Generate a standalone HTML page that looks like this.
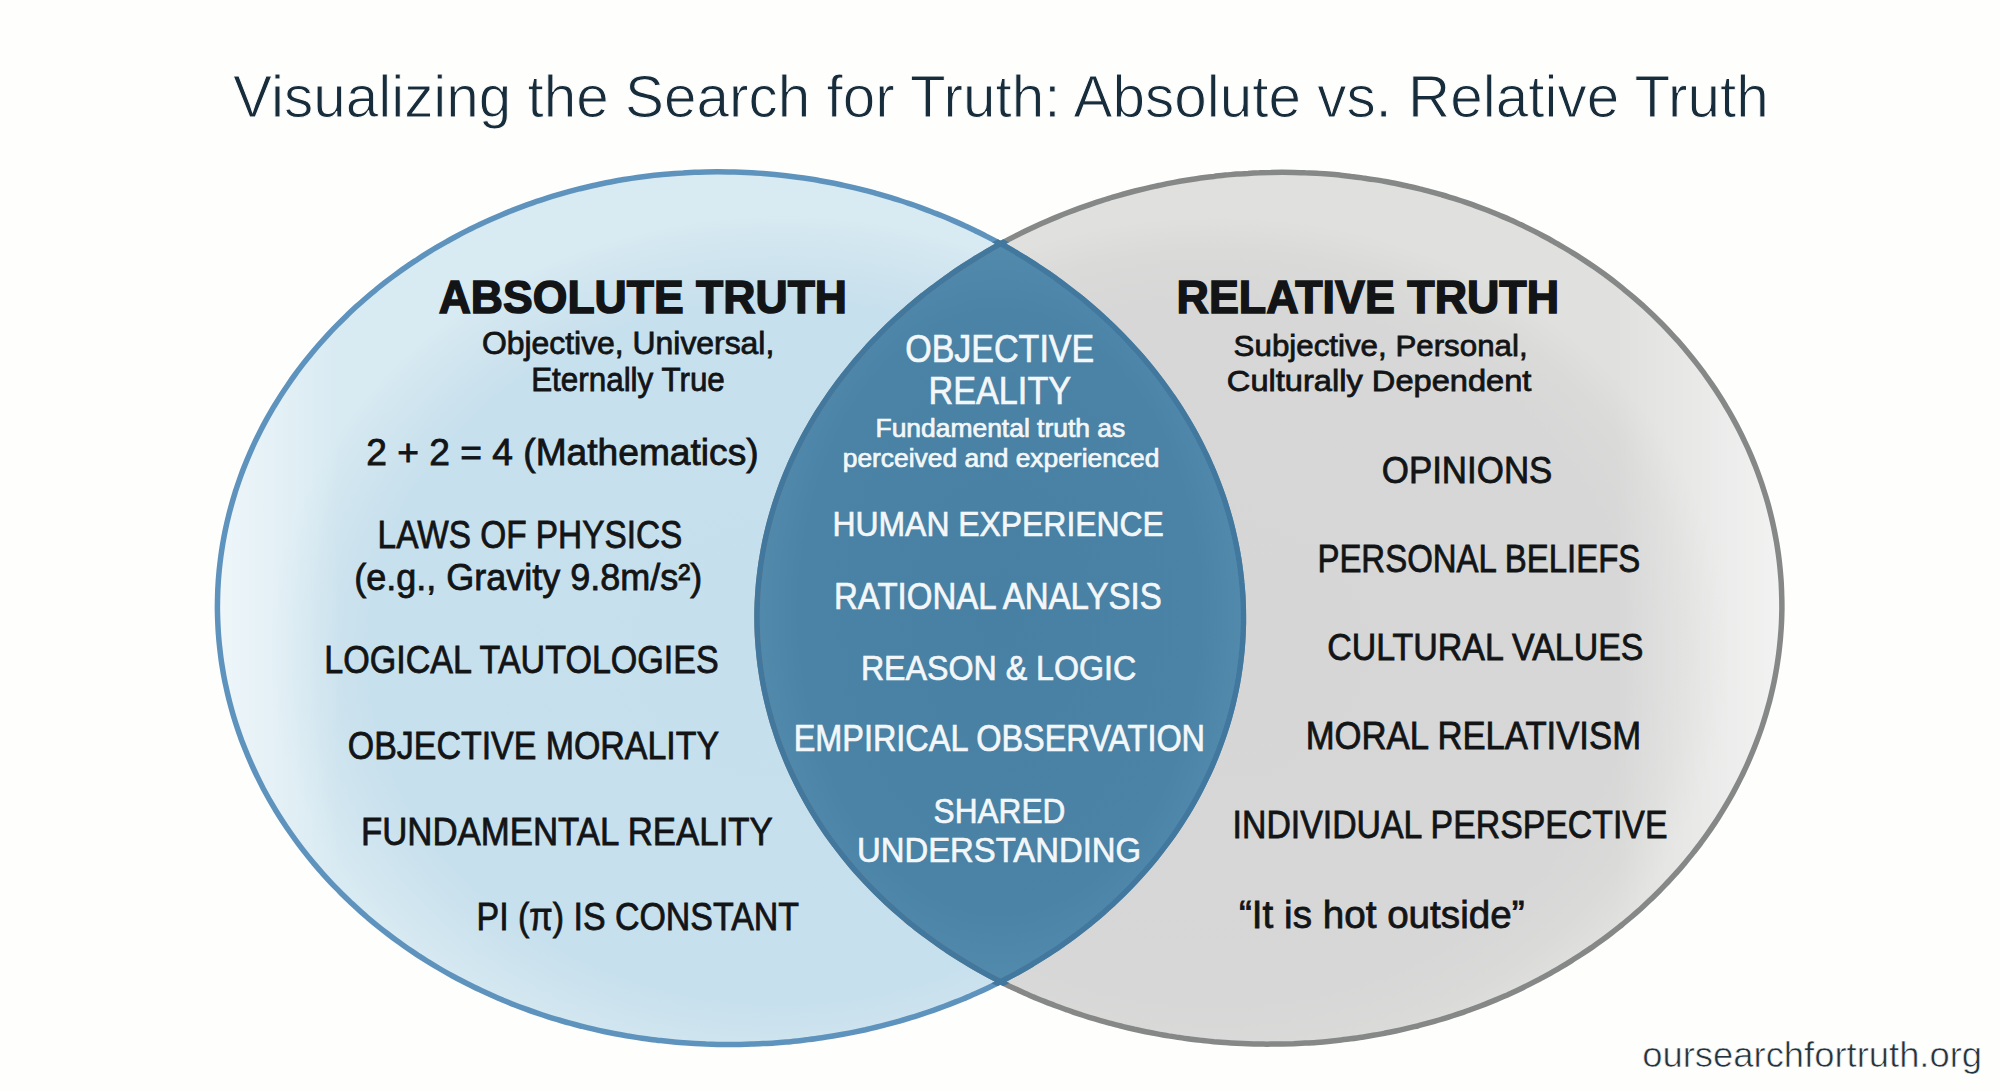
<!DOCTYPE html>
<html><head><meta charset="utf-8">
<style>
html,body{margin:0;padding:0;background:#fefefd;}
body{width:2000px;height:1091px;overflow:hidden;position:relative;}
svg{position:absolute;left:0;top:0;display:block;}
text{font-family:"Liberation Sans",sans-serif;}
</style></head>
<body>
<svg width="2000" height="1091" viewBox="0 0 2000 1091">
<defs>
<clipPath id="cl"><path d="M217.4 609.4C217.4 604.9 217.5 600.4 217.6 596.0C217.7 591.5 217.9 587.0 218.2 582.6C218.5 578.1 218.9 573.7 219.3 569.3C219.8 564.8 220.3 560.4 220.9 556.0C221.5 551.5 222.2 547.1 222.9 542.7C223.7 538.4 224.5 534.0 225.4 529.6C226.3 525.3 227.3 520.9 228.4 516.6C229.4 512.3 230.6 508.0 231.8 503.7C233.0 499.4 234.3 495.2 235.6 490.9C237.0 486.7 238.4 482.5 239.9 478.3C241.4 474.2 242.9 470.0 244.6 465.9C246.2 461.8 247.9 457.7 249.7 453.6C251.4 449.6 253.2 445.6 255.1 441.6C257.0 437.6 259.0 433.7 261.0 429.7C263.0 425.8 265.1 422.0 267.2 418.1C269.4 414.3 271.6 410.5 273.8 406.7C276.1 403.0 278.4 399.3 280.7 395.6C283.1 391.9 285.5 388.3 288.0 384.7C290.4 381.1 292.9 377.5 295.5 374.0C298.1 370.5 300.7 367.1 303.3 363.7C306.0 360.2 308.7 356.9 311.5 353.5C314.2 350.2 317.0 346.9 319.8 343.7C322.7 340.5 325.6 337.3 328.5 334.1C331.4 331.0 334.3 327.9 337.3 324.9C340.3 321.8 343.4 318.8 346.4 315.9C349.5 312.9 352.6 310.0 355.7 307.1C358.8 304.3 362.0 301.5 365.2 298.7C368.4 295.9 371.6 293.2 374.9 290.6C378.1 287.9 381.4 285.3 384.7 282.7C388.0 280.1 391.3 277.6 394.7 275.1C398.1 272.7 401.4 270.2 404.8 267.9C408.2 265.5 411.7 263.1 415.1 260.9C418.6 258.6 422.0 256.3 425.5 254.1C429.0 252.0 432.5 249.8 436.1 247.7C439.6 245.6 443.1 243.6 446.7 241.6C450.3 239.6 453.8 237.6 457.4 235.7C461.0 233.8 464.6 231.9 468.2 230.1C471.9 228.3 475.5 226.5 479.2 224.8C482.8 223.0 486.5 221.3 490.1 219.7C493.8 218.1 497.5 216.5 501.2 214.9C504.9 213.4 508.6 211.9 512.3 210.4C516.0 208.9 519.7 207.5 523.5 206.1C527.2 204.8 530.9 203.4 534.7 202.1C538.4 200.9 542.2 199.6 546.0 198.4C549.7 197.2 553.5 196.0 557.3 194.9C561.0 193.8 564.8 192.7 568.6 191.7C572.4 190.7 576.2 189.7 580.0 188.7C583.8 187.8 587.6 186.9 591.4 186.0C595.2 185.1 599.0 184.3 602.8 183.5C606.6 182.7 610.4 182.0 614.2 181.3C618.0 180.6 621.8 179.9 625.7 179.3C629.5 178.7 633.3 178.1 637.1 177.5C641.0 177.0 644.8 176.5 648.6 176.0C652.4 175.6 656.3 175.1 660.1 174.7C663.9 174.4 667.7 174.0 671.6 173.7C675.4 173.4 679.2 173.1 683.0 172.9C686.9 172.6 690.7 172.5 694.5 172.3C698.3 172.1 702.2 172.0 706.0 171.9C709.8 171.9 713.6 171.8 717.5 171.8C721.3 171.8 725.1 171.8 728.9 171.9C732.7 172.0 736.6 172.1 740.4 172.2C744.2 172.4 748.0 172.6 751.8 172.8C755.6 173.0 759.4 173.2 763.2 173.5C767.0 173.8 770.8 174.2 774.6 174.5C778.4 174.9 782.2 175.3 786.0 175.7C789.8 176.2 793.6 176.7 797.4 177.2C801.2 177.7 804.9 178.2 808.7 178.8C812.5 179.4 816.3 180.0 820.0 180.7C823.8 181.4 827.6 182.1 831.3 182.8C835.1 183.5 838.8 184.3 842.6 185.1C846.3 185.9 850.1 186.8 853.8 187.6C857.6 188.5 861.3 189.4 865.0 190.4C868.8 191.4 872.5 192.3 876.2 193.4C879.9 194.4 883.7 195.5 887.4 196.6C891.1 197.7 894.8 198.8 898.5 200.0C902.2 201.2 905.9 202.4 909.5 203.7C913.2 204.9 916.9 206.2 920.6 207.6C924.2 208.9 927.9 210.3 931.5 211.7C935.2 213.1 938.8 214.6 942.5 216.0C946.1 217.5 949.7 219.1 953.3 220.6C957.0 222.2 960.6 223.8 964.2 225.5C967.8 227.1 971.3 228.8 974.9 230.5C978.5 232.3 982.1 234.0 985.6 235.9C989.2 237.7 992.7 239.5 996.2 241.4C999.8 243.3 1003.3 245.3 1006.8 247.2C1010.3 249.2 1013.8 251.2 1017.2 253.3C1020.7 255.4 1024.2 257.5 1027.6 259.6C1031.1 261.8 1034.5 264.0 1037.9 266.2C1041.3 268.5 1044.7 270.7 1048.1 273.1C1051.4 275.4 1054.8 277.8 1058.1 280.2C1061.4 282.6 1064.7 285.1 1068.0 287.6C1071.3 290.1 1074.6 292.6 1077.8 295.2C1081.1 297.8 1084.3 300.4 1087.5 303.1C1090.7 305.8 1093.8 308.5 1097.0 311.3C1100.1 314.1 1103.2 316.9 1106.3 319.8C1109.4 322.7 1112.4 325.6 1115.4 328.5C1118.5 331.5 1121.4 334.5 1124.4 337.6C1127.4 340.6 1130.3 343.7 1133.1 346.9C1136.0 350.0 1138.9 353.2 1141.7 356.4C1144.5 359.7 1147.2 362.9 1150.0 366.3C1152.7 369.6 1155.4 373.0 1158.0 376.4C1160.7 379.8 1163.3 383.3 1165.8 386.8C1168.3 390.3 1170.8 393.8 1173.3 397.4C1175.7 401.0 1178.2 404.6 1180.5 408.3C1182.8 412.0 1185.1 415.7 1187.4 419.5C1189.6 423.2 1191.8 427.0 1194.0 430.9C1196.1 434.7 1198.2 438.6 1200.2 442.5C1202.2 446.4 1204.1 450.4 1206.0 454.3C1207.9 458.3 1209.7 462.4 1211.5 466.4C1213.3 470.5 1215.0 474.6 1216.6 478.7C1218.2 482.8 1219.8 487.0 1221.3 491.2C1222.8 495.3 1224.2 499.6 1225.6 503.8C1226.9 508.0 1228.2 512.3 1229.4 516.6C1230.6 520.9 1231.7 525.2 1232.8 529.6C1233.8 533.9 1234.8 538.3 1235.7 542.6C1236.6 547.0 1237.5 551.4 1238.2 555.8C1239.0 560.2 1239.6 564.7 1240.2 569.1C1240.8 573.6 1241.3 578.0 1241.7 582.5C1242.2 586.9 1242.5 591.4 1242.8 595.9C1243.0 600.4 1243.2 604.9 1243.3 609.4C1243.4 613.8 1243.4 618.3 1243.4 622.8C1243.3 627.3 1243.1 631.8 1242.9 636.3C1242.7 640.8 1242.4 645.3 1242.0 649.7C1241.6 654.2 1241.1 658.7 1240.5 663.1C1240.0 667.6 1239.3 672.0 1238.6 676.5C1237.9 680.9 1237.1 685.3 1236.2 689.7C1235.3 694.1 1234.3 698.5 1233.3 702.8C1232.3 707.2 1231.1 711.5 1229.9 715.9C1228.7 720.2 1227.5 724.5 1226.1 728.7C1224.8 733.0 1223.3 737.2 1221.8 741.4C1220.3 745.6 1218.8 749.8 1217.1 754.0C1215.5 758.1 1213.8 762.2 1212.0 766.3C1210.2 770.4 1208.3 774.4 1206.4 778.4C1204.5 782.5 1202.5 786.4 1200.4 790.4C1198.4 794.3 1196.3 798.2 1194.1 802.0C1191.9 805.9 1189.7 809.7 1187.4 813.5C1185.1 817.2 1182.7 821.0 1180.3 824.6C1177.9 828.3 1175.4 832.0 1172.9 835.6C1170.3 839.2 1167.7 842.7 1165.1 846.2C1162.5 849.7 1159.8 853.2 1157.1 856.6C1154.3 860.0 1151.6 863.3 1148.7 866.6C1145.9 869.9 1143.0 873.2 1140.1 876.4C1137.2 879.6 1134.3 882.8 1131.3 885.9C1128.3 889.0 1125.3 892.1 1122.2 895.1C1119.1 898.1 1116.0 901.1 1112.9 904.0C1109.7 906.9 1106.5 909.7 1103.3 912.6C1100.1 915.4 1096.9 918.1 1093.6 920.8C1090.3 923.6 1087.0 926.2 1083.7 928.8C1080.4 931.4 1077.0 934.0 1073.7 936.5C1070.3 939.0 1066.9 941.5 1063.4 943.9C1060.0 946.3 1056.6 948.7 1053.1 951.0C1049.6 953.3 1046.1 955.5 1042.6 957.8C1039.1 960.0 1035.6 962.1 1032.0 964.3C1028.5 966.4 1024.9 968.5 1021.3 970.5C1017.8 972.5 1014.2 974.5 1010.6 976.4C1007.0 978.3 1003.3 980.2 999.7 982.1C996.1 983.9 992.4 985.7 988.8 987.4C985.1 989.2 981.4 990.9 977.8 992.5C974.1 994.2 970.4 995.8 966.7 997.4C963.0 998.9 959.3 1000.5 955.6 1001.9C951.9 1003.4 948.1 1004.9 944.4 1006.3C940.7 1007.7 937.0 1009.0 933.2 1010.3C929.5 1011.6 925.7 1012.9 922.0 1014.2C918.2 1015.4 914.5 1016.6 910.7 1017.7C907.0 1018.9 903.2 1020.0 899.4 1021.1C895.7 1022.1 891.9 1023.2 888.1 1024.2C884.4 1025.2 880.6 1026.1 876.8 1027.0C873.0 1027.9 869.3 1028.8 865.5 1029.7C861.7 1030.5 857.9 1031.3 854.1 1032.1C850.3 1032.9 846.6 1033.6 842.8 1034.3C839.0 1035.0 835.2 1035.6 831.4 1036.3C827.6 1036.9 823.8 1037.5 820.0 1038.0C816.2 1038.6 812.4 1039.1 808.6 1039.6C804.9 1040.0 801.1 1040.5 797.3 1040.9C793.5 1041.3 789.7 1041.7 785.9 1042.0C782.1 1042.4 778.3 1042.7 774.5 1042.9C770.7 1043.2 766.9 1043.4 763.1 1043.6C759.3 1043.8 755.5 1044.0 751.7 1044.1C747.9 1044.3 744.1 1044.4 740.3 1044.4C736.5 1044.5 732.7 1044.5 728.9 1044.5C725.1 1044.5 721.3 1044.5 717.5 1044.4C713.7 1044.3 709.9 1044.2 706.1 1044.1C702.3 1043.9 698.5 1043.7 694.7 1043.5C691.0 1043.3 687.2 1043.0 683.4 1042.8C679.6 1042.5 675.8 1042.2 672.0 1041.8C668.2 1041.4 664.4 1041.0 660.6 1040.6C656.8 1040.2 653.0 1039.7 649.2 1039.2C645.5 1038.7 641.7 1038.2 637.9 1037.6C634.1 1037.0 630.3 1036.4 626.5 1035.8C622.8 1035.1 619.0 1034.5 615.2 1033.7C611.4 1033.0 607.7 1032.3 603.9 1031.5C600.1 1030.7 596.3 1029.8 592.6 1028.9C588.8 1028.1 585.1 1027.2 581.3 1026.2C577.5 1025.3 573.8 1024.3 570.0 1023.2C566.3 1022.2 562.6 1021.1 558.8 1020.0C555.1 1018.9 551.3 1017.8 547.6 1016.6C543.9 1015.4 540.2 1014.1 536.5 1012.9C532.7 1011.6 529.0 1010.3 525.3 1008.9C521.6 1007.6 517.9 1006.2 514.2 1004.7C510.6 1003.3 506.9 1001.8 503.2 1000.3C499.6 998.7 495.9 997.2 492.3 995.6C488.6 993.9 485.0 992.3 481.3 990.6C477.7 988.9 474.1 987.1 470.5 985.3C466.9 983.6 463.3 981.7 459.7 979.8C456.2 978.0 452.6 976.0 449.1 974.1C445.5 972.1 442.0 970.1 438.5 968.0C435.0 965.9 431.5 963.8 428.0 961.7C424.5 959.5 421.1 957.3 417.6 955.1C414.2 952.8 410.8 950.5 407.4 948.2C404.0 945.8 400.6 943.4 397.3 941.0C393.9 938.6 390.6 936.1 387.3 933.5C384.0 931.0 380.7 928.4 377.5 925.8C374.2 923.2 371.0 920.5 367.8 917.8C364.6 915.0 361.5 912.3 358.3 909.4C355.2 906.6 352.1 903.8 349.0 900.8C346.0 897.9 343.0 895.0 340.0 892.0C337.0 888.9 334.0 885.9 331.1 882.8C328.2 879.7 325.3 876.5 322.4 873.3C319.6 870.1 316.8 866.9 314.0 863.6C311.3 860.3 308.5 857.0 305.9 853.6C303.2 850.2 300.6 846.8 298.0 843.3C295.4 839.9 292.9 836.4 290.4 832.8C287.9 829.3 285.5 825.7 283.1 822.0C280.7 818.4 278.4 814.7 276.1 811.0C273.8 807.3 271.6 803.5 269.4 799.7C267.3 795.9 265.2 792.0 263.1 788.2C261.1 784.3 259.1 780.4 257.2 776.4C255.2 772.5 253.4 768.5 251.6 764.5C249.8 760.4 248.0 756.4 246.4 752.3C244.7 748.2 243.1 744.1 241.5 740.0C240.0 735.8 238.5 731.6 237.1 727.4C235.7 723.2 234.4 719.0 233.1 714.7C231.9 710.5 230.7 706.2 229.6 701.9C228.5 697.6 227.4 693.3 226.5 688.9C225.5 684.6 224.6 680.2 223.8 675.9C223.0 671.5 222.3 667.1 221.6 662.7C220.9 658.3 220.4 653.9 219.9 649.4C219.4 645.0 218.9 640.6 218.6 636.1C218.2 631.7 218.0 627.2 217.8 622.7C217.6 618.3 217.5 613.8 217.4 609.4Z" /></clipPath>
<clipPath id="clx"><path d="M211.9 609.4C211.9 604.9 212.0 600.3 212.1 595.8C212.2 591.3 212.4 586.8 212.7 582.3C213.0 577.8 213.4 573.3 213.8 568.8C214.3 564.3 214.8 559.9 215.4 555.4C216.0 550.9 216.7 546.5 217.5 542.0C218.2 537.6 219.1 533.2 220.0 528.8C220.9 524.3 221.9 520.0 223.0 515.6C224.0 511.2 225.2 506.9 226.4 502.5C227.6 498.2 228.9 493.9 230.3 489.6C231.6 485.4 233.1 481.1 234.6 476.9C236.1 472.7 237.6 468.5 239.3 464.3C240.9 460.2 242.6 456.0 244.4 451.9C246.2 447.8 248.0 443.8 250.0 439.8C251.9 435.7 253.8 431.7 255.9 427.8C257.9 423.8 260.0 419.9 262.1 416.0C264.3 412.1 266.5 408.3 268.8 404.5C271.0 400.7 273.4 396.9 275.8 393.2C278.1 389.5 280.6 385.8 283.1 382.2C285.5 378.6 288.1 375.0 290.7 371.4C293.3 367.9 295.9 364.4 298.6 360.9C301.3 357.4 304.0 354.0 306.8 350.7C309.5 347.3 312.4 344.0 315.2 340.7C318.1 337.4 321.0 334.2 323.9 331.0C326.9 327.8 329.9 324.7 332.9 321.6C335.9 318.5 339.0 315.5 342.1 312.5C345.1 309.5 348.3 306.6 351.4 303.7C354.6 300.8 357.8 297.9 361.0 295.1C364.2 292.3 367.5 289.6 370.8 286.9C374.1 284.2 377.4 281.5 380.7 278.9C384.1 276.3 387.4 273.8 390.8 271.3C394.2 268.7 397.6 266.3 401.1 263.9C404.5 261.5 408.0 259.1 411.4 256.8C414.9 254.5 418.4 252.2 422.0 250.0C425.5 247.7 429.0 245.6 432.6 243.4C436.2 241.3 439.7 239.2 443.3 237.2C446.9 235.2 450.6 233.2 454.2 231.2C457.8 229.3 461.5 227.4 465.1 225.5C468.8 223.7 472.5 221.9 476.2 220.1C479.8 218.4 483.5 216.7 487.3 215.0C491.0 213.3 494.7 211.7 498.4 210.2C502.2 208.6 505.9 207.0 509.7 205.6C513.4 204.1 517.2 202.6 521.0 201.2C524.7 199.8 528.5 198.5 532.3 197.2C536.1 195.9 539.9 194.6 543.7 193.4C547.5 192.2 551.3 191.0 555.1 189.8C559.0 188.7 562.8 187.6 566.6 186.6C570.5 185.5 574.3 184.5 578.1 183.5C582.0 182.6 585.8 181.7 589.7 180.8C593.5 179.9 597.4 179.0 601.2 178.3C605.1 177.5 608.9 176.7 612.8 176.0C616.7 175.3 620.5 174.6 624.4 173.9C628.2 173.3 632.1 172.7 636.0 172.2C639.9 171.6 643.7 171.1 647.6 170.6C651.5 170.1 655.3 169.7 659.2 169.3C663.1 168.9 667.0 168.6 670.8 168.2C674.7 167.9 678.6 167.7 682.5 167.4C686.3 167.2 690.2 167.0 694.1 166.8C698.0 166.7 701.8 166.5 705.7 166.4C709.6 166.4 713.4 166.3 717.3 166.3C721.2 166.3 725.1 166.3 728.9 166.4C732.8 166.5 736.6 166.6 740.5 166.7C744.4 166.9 748.2 167.1 752.1 167.3C755.9 167.5 759.8 167.8 763.6 168.1C767.5 168.4 771.3 168.7 775.2 169.1C779.0 169.4 782.9 169.8 786.7 170.3C790.6 170.7 794.4 171.2 798.2 171.7C802.1 172.3 805.9 172.8 809.7 173.4C813.5 174.0 817.4 174.6 821.2 175.3C825.0 176.0 828.8 176.7 832.6 177.4C836.4 178.2 840.2 179.0 844.0 179.8C847.8 180.6 851.6 181.5 855.4 182.4C859.2 183.3 863.0 184.2 866.7 185.2C870.5 186.1 874.3 187.1 878.1 188.2C881.8 189.2 885.6 190.3 889.3 191.5C893.1 192.6 896.8 193.7 900.6 194.9C904.3 196.1 908.0 197.4 911.8 198.7C915.5 199.9 919.2 201.3 922.9 202.6C926.6 204.0 930.3 205.4 934.0 206.8C937.7 208.2 941.4 209.7 945.1 211.2C948.8 212.7 952.4 214.3 956.1 215.9C959.8 217.5 963.4 219.1 967.0 220.8C970.7 222.5 974.3 224.2 977.9 225.9C981.5 227.7 985.1 229.5 988.7 231.3C992.3 233.2 995.9 235.1 999.5 237.0C1003.0 238.9 1006.6 240.9 1010.1 242.9C1013.7 244.9 1017.2 246.9 1020.7 249.0C1024.2 251.1 1027.7 253.3 1031.2 255.5C1034.7 257.6 1038.1 259.9 1041.6 262.1C1045.0 264.4 1048.4 266.7 1051.8 269.1C1055.2 271.4 1058.6 273.8 1062.0 276.3C1065.4 278.7 1068.7 281.2 1072.0 283.8C1075.3 286.3 1078.6 288.9 1081.9 291.5C1085.2 294.2 1088.4 296.8 1091.7 299.6C1094.9 302.3 1098.1 305.0 1101.2 307.9C1104.4 310.7 1107.6 313.5 1110.7 316.4C1113.8 319.3 1116.8 322.3 1119.9 325.3C1122.9 328.3 1126.0 331.3 1128.9 334.4C1131.9 337.5 1134.9 340.7 1137.8 343.9C1140.7 347.0 1143.5 350.3 1146.4 353.5C1149.2 356.8 1152.0 360.1 1154.7 363.5C1157.5 366.9 1160.2 370.3 1162.9 373.8C1165.5 377.2 1168.1 380.7 1170.7 384.3C1173.3 387.8 1175.8 391.4 1178.3 395.0C1180.7 398.7 1183.2 402.3 1185.5 406.1C1187.9 409.8 1190.2 413.5 1192.5 417.4C1194.7 421.2 1196.9 425.0 1199.1 428.9C1201.2 432.8 1203.3 436.7 1205.4 440.6C1207.4 444.6 1209.4 448.6 1211.3 452.6C1213.2 456.7 1215.0 460.7 1216.8 464.8C1218.6 469.0 1220.3 473.1 1221.9 477.3C1223.6 481.4 1225.1 485.6 1226.6 489.9C1228.1 494.1 1229.6 498.4 1230.9 502.7C1232.3 506.9 1233.6 511.3 1234.8 515.6C1236.0 519.9 1237.2 524.3 1238.2 528.7C1239.3 533.1 1240.3 537.5 1241.2 541.9C1242.1 546.3 1242.9 550.8 1243.7 555.3C1244.4 559.7 1245.1 564.2 1245.7 568.7C1246.3 573.2 1246.8 577.7 1247.2 582.2C1247.7 586.7 1248.0 591.2 1248.3 595.8C1248.5 600.3 1248.7 604.8 1248.8 609.4C1248.9 613.9 1248.9 618.4 1248.9 623.0C1248.8 627.5 1248.6 632.1 1248.4 636.6C1248.2 641.1 1247.9 645.7 1247.5 650.2C1247.1 654.7 1246.6 659.2 1246.0 663.7C1245.4 668.2 1244.8 672.7 1244.1 677.2C1243.3 681.7 1242.5 686.1 1241.6 690.6C1240.7 695.0 1239.8 699.4 1238.7 703.8C1237.7 708.3 1236.5 712.6 1235.3 717.0C1234.1 721.4 1232.8 725.7 1231.5 730.0C1230.1 734.3 1228.7 738.6 1227.1 742.9C1225.6 747.1 1224.0 751.3 1222.4 755.5C1220.7 759.7 1219.0 763.9 1217.2 768.0C1215.4 772.1 1213.5 776.2 1211.6 780.3C1209.6 784.3 1207.6 788.4 1205.6 792.3C1203.5 796.3 1201.4 800.2 1199.2 804.1C1197.0 808.0 1194.7 811.9 1192.4 815.7C1190.1 819.5 1187.7 823.3 1185.2 827.0C1182.8 830.7 1180.3 834.4 1177.8 838.1C1175.2 841.7 1172.6 845.3 1170.0 848.8C1167.3 852.4 1164.6 855.9 1161.8 859.3C1159.1 862.8 1156.3 866.2 1153.4 869.5C1150.6 872.9 1147.7 876.2 1144.8 879.4C1141.8 882.7 1138.8 885.9 1135.8 889.0C1132.8 892.2 1129.7 895.3 1126.6 898.3C1123.5 901.4 1120.4 904.4 1117.2 907.3C1114.1 910.3 1110.8 913.2 1107.6 916.0C1104.4 918.9 1101.1 921.7 1097.8 924.4C1094.5 927.2 1091.2 929.9 1087.8 932.5C1084.4 935.1 1081.1 937.7 1077.6 940.3C1074.2 942.8 1070.8 945.3 1067.3 947.8C1063.9 950.2 1060.4 952.6 1056.9 955.0C1053.4 957.3 1049.8 959.6 1046.3 961.8C1042.8 964.1 1039.2 966.3 1035.6 968.4C1032.0 970.6 1028.4 972.7 1024.8 974.7C1021.2 976.8 1017.6 978.8 1013.9 980.8C1010.3 982.7 1006.6 984.6 1002.9 986.5C999.3 988.4 995.6 990.2 991.9 992.0C988.2 993.7 984.5 995.5 980.7 997.1C977.0 998.8 973.3 1000.5 969.6 1002.1C965.8 1003.7 962.1 1005.2 958.3 1006.7C954.6 1008.2 950.8 1009.7 947.0 1011.1C943.3 1012.5 939.5 1013.9 935.7 1015.2C931.9 1016.6 928.2 1017.9 924.4 1019.1C920.6 1020.4 916.8 1021.6 913.0 1022.8C909.2 1023.9 905.4 1025.1 901.6 1026.1C897.7 1027.2 893.9 1028.3 890.1 1029.3C886.3 1030.3 882.5 1031.3 878.7 1032.2C874.8 1033.1 871.0 1034.0 867.2 1034.9C863.4 1035.8 859.5 1036.6 855.7 1037.4C851.9 1038.1 848.0 1038.9 844.2 1039.6C840.4 1040.3 836.5 1041.0 832.7 1041.6C828.9 1042.2 825.0 1042.8 821.2 1043.4C817.3 1044.0 813.5 1044.5 809.7 1045.0C805.8 1045.5 802.0 1045.9 798.1 1046.3C794.3 1046.7 790.4 1047.1 786.6 1047.5C782.8 1047.8 778.9 1048.1 775.1 1048.4C771.2 1048.7 767.4 1048.9 763.5 1049.1C759.7 1049.3 755.8 1049.5 752.0 1049.6C748.1 1049.8 744.3 1049.9 740.5 1049.9C736.6 1050.0 732.8 1050.0 728.9 1050.0C725.1 1050.0 721.2 1050.0 717.4 1049.9C713.5 1049.8 709.7 1049.7 705.8 1049.5C702.0 1049.4 698.2 1049.2 694.3 1049.0C690.5 1048.8 686.6 1048.5 682.8 1048.2C678.9 1047.9 675.1 1047.6 671.3 1047.2C667.4 1046.9 663.6 1046.5 659.8 1046.0C655.9 1045.6 652.1 1045.1 648.2 1044.6C644.4 1044.1 640.6 1043.6 636.7 1043.0C632.9 1042.4 629.1 1041.8 625.3 1041.1C621.4 1040.5 617.6 1039.8 613.8 1039.0C610.0 1038.3 606.1 1037.5 602.3 1036.7C598.5 1035.9 594.7 1035.1 590.9 1034.2C587.1 1033.3 583.3 1032.4 579.5 1031.4C575.7 1030.4 571.9 1029.4 568.1 1028.4C564.3 1027.3 560.5 1026.2 556.7 1025.1C552.9 1024.0 549.1 1022.8 545.4 1021.6C541.6 1020.4 537.8 1019.1 534.1 1017.8C530.3 1016.5 526.6 1015.2 522.8 1013.8C519.1 1012.4 515.4 1011.0 511.6 1009.6C507.9 1008.1 504.2 1006.6 500.5 1005.0C496.8 1003.5 493.1 1001.9 489.4 1000.3C485.7 998.6 482.0 996.9 478.3 995.2C474.7 993.5 471.0 991.7 467.4 989.9C463.8 988.1 460.1 986.2 456.5 984.3C452.9 982.4 449.3 980.4 445.7 978.4C442.1 976.4 438.6 974.4 435.0 972.3C431.5 970.2 428.0 968.0 424.4 965.9C420.9 963.7 417.4 961.4 414.0 959.2C410.5 956.9 407.0 954.5 403.6 952.2C400.2 949.8 396.8 947.4 393.4 944.9C390.0 942.4 386.6 939.9 383.3 937.3C380.0 934.8 376.7 932.1 373.4 929.5C370.1 926.8 366.9 924.1 363.6 921.3C360.4 918.6 357.2 915.8 354.1 912.9C350.9 910.1 347.8 907.1 344.7 904.2C341.6 901.2 338.5 898.2 335.5 895.2C332.5 892.1 329.5 889.0 326.5 885.9C323.6 882.8 320.7 879.6 317.8 876.3C314.9 873.1 312.1 869.8 309.3 866.5C306.5 863.2 303.8 859.8 301.1 856.4C298.4 852.9 295.7 849.5 293.1 846.0C290.5 842.5 288.0 838.9 285.5 835.3C283.0 831.7 280.5 828.1 278.1 824.4C275.7 820.7 273.4 817.0 271.1 813.2C268.8 809.4 266.5 805.6 264.4 801.8C262.2 797.9 260.0 794.1 258.0 790.1C255.9 786.2 253.9 782.3 252.0 778.3C250.0 774.3 248.1 770.2 246.3 766.2C244.5 762.1 242.8 758.0 241.1 753.9C239.4 749.7 237.8 745.6 236.2 741.4C234.7 737.2 233.2 733.0 231.8 728.7C230.4 724.5 229.0 720.2 227.8 715.9C226.5 711.6 225.3 707.3 224.2 702.9C223.1 698.6 222.0 694.2 221.0 689.8C220.1 685.4 219.2 681.0 218.4 676.6C217.5 672.2 216.8 667.7 216.1 663.3C215.5 658.8 214.9 654.3 214.4 649.9C213.9 645.4 213.4 640.9 213.1 636.4C212.7 631.9 212.5 627.4 212.3 622.9C212.1 618.4 212.0 613.9 211.9 609.4Z" /></clipPath>
<clipPath id="crx"><path d="M751.6 609.1C751.7 604.6 751.9 600.1 752.2 595.5C752.5 591.0 752.8 586.5 753.2 582.0C753.7 577.5 754.2 573.0 754.8 568.5C755.4 564.0 756.0 559.5 756.8 555.1C757.5 550.6 758.4 546.2 759.3 541.8C760.2 537.4 761.2 532.9 762.2 528.6C763.3 524.2 764.5 519.8 765.7 515.5C766.9 511.2 768.2 506.8 769.5 502.6C770.9 498.3 772.3 494.0 773.8 489.8C775.3 485.6 776.9 481.4 778.6 477.2C780.2 473.0 781.9 468.9 783.7 464.8C785.5 460.7 787.3 456.7 789.2 452.6C791.1 448.6 793.1 444.6 795.1 440.7C797.2 436.7 799.2 432.8 801.4 428.9C803.5 425.0 805.7 421.2 808.0 417.4C810.3 413.6 812.6 409.9 815.0 406.1C817.3 402.4 819.7 398.8 822.2 395.1C824.7 391.5 827.2 387.9 829.8 384.4C832.3 380.8 835.0 377.3 837.6 373.9C840.3 370.4 843.0 367.0 845.7 363.7C848.5 360.3 851.3 357.0 854.1 353.7C856.9 350.5 859.8 347.2 862.7 344.1C865.6 340.9 868.5 337.7 871.5 334.7C874.5 331.6 877.5 328.5 880.6 325.5C883.6 322.6 886.7 319.6 889.8 316.7C892.9 313.8 896.0 311.0 899.2 308.1C902.4 305.3 905.6 302.6 908.8 299.9C912.0 297.1 915.2 294.5 918.5 291.9C921.8 289.2 925.1 286.7 928.4 284.1C931.7 281.6 935.0 279.1 938.4 276.7C941.8 274.2 945.2 271.8 948.6 269.5C952.0 267.1 955.4 264.8 958.8 262.5C962.3 260.3 965.7 258.1 969.2 255.9C972.7 253.7 976.1 251.6 979.6 249.5C983.2 247.4 986.7 245.4 990.2 243.4C993.7 241.4 997.3 239.4 1000.9 237.5C1004.4 235.6 1008.0 233.7 1011.6 231.8C1015.2 230.0 1018.8 228.2 1022.4 226.5C1026.0 224.7 1029.6 223.0 1033.2 221.3C1036.9 219.7 1040.5 218.0 1044.2 216.4C1047.8 214.9 1051.5 213.3 1055.1 211.8C1058.8 210.3 1062.5 208.8 1066.2 207.4C1069.9 206.0 1073.6 204.6 1077.3 203.2C1081.0 201.9 1084.7 200.6 1088.4 199.3C1092.1 198.0 1095.8 196.8 1099.6 195.6C1103.3 194.4 1107.0 193.2 1110.8 192.1C1114.5 191.0 1118.3 189.9 1122.0 188.8C1125.8 187.8 1129.6 186.8 1133.3 185.8C1137.1 184.8 1140.9 183.9 1144.7 183.0C1148.4 182.1 1152.2 181.3 1156.0 180.4C1159.8 179.6 1163.6 178.8 1167.4 178.1C1171.2 177.3 1175.0 176.6 1178.8 176.0C1182.6 175.3 1186.4 174.7 1190.2 174.1C1194.1 173.5 1197.9 172.9 1201.7 172.4C1205.5 171.9 1209.3 171.4 1213.2 170.9C1217.0 170.5 1220.8 170.0 1224.7 169.7C1228.5 169.3 1232.4 169.0 1236.2 168.7C1240.1 168.4 1243.9 168.1 1247.7 167.9C1251.6 167.6 1255.4 167.4 1259.3 167.3C1263.2 167.1 1267.0 167.0 1270.9 167.0C1274.7 166.9 1278.6 166.8 1282.5 166.8C1286.3 166.8 1290.2 166.9 1294.0 166.9C1297.9 167.0 1301.8 167.1 1305.6 167.3C1309.5 167.4 1313.4 167.6 1317.3 167.9C1321.1 168.1 1325.0 168.3 1328.9 168.7C1332.7 169.0 1336.6 169.3 1340.5 169.7C1344.3 170.1 1348.2 170.5 1352.1 171.0C1355.9 171.4 1359.8 171.9 1363.7 172.5C1367.6 173.0 1371.4 173.6 1375.3 174.2C1379.1 174.9 1383.0 175.5 1386.9 176.2C1390.7 176.9 1394.6 177.7 1398.4 178.5C1402.3 179.2 1406.1 180.1 1410.0 180.9C1413.8 181.8 1417.7 182.7 1421.5 183.7C1425.4 184.6 1429.2 185.6 1433.0 186.7C1436.9 187.7 1440.7 188.8 1444.5 189.9C1448.3 191.0 1452.1 192.2 1456.0 193.4C1459.8 194.6 1463.6 195.9 1467.4 197.2C1471.2 198.5 1474.9 199.8 1478.7 201.2C1482.5 202.6 1486.3 204.0 1490.0 205.5C1493.8 207.0 1497.5 208.5 1501.3 210.1C1505.0 211.6 1508.7 213.2 1512.5 214.9C1516.2 216.5 1519.9 218.2 1523.6 220.0C1527.3 221.7 1531.0 223.5 1534.6 225.4C1538.3 227.2 1541.9 229.1 1545.6 231.0C1549.2 233.0 1552.8 234.9 1556.4 237.0C1560.0 239.0 1563.6 241.1 1567.2 243.2C1570.8 245.3 1574.3 247.5 1577.8 249.7C1581.4 251.9 1584.9 254.2 1588.4 256.5C1591.9 258.8 1595.3 261.2 1598.8 263.6C1602.2 266.0 1605.6 268.5 1609.0 271.0C1612.4 273.5 1615.8 276.0 1619.2 278.6C1622.5 281.2 1625.8 283.9 1629.1 286.6C1632.4 289.3 1635.6 292.0 1638.9 294.8C1642.1 297.6 1645.3 300.5 1648.5 303.4C1651.6 306.3 1654.8 309.2 1657.8 312.2C1660.9 315.2 1664.0 318.2 1667.0 321.3C1670.0 324.4 1673.0 327.5 1676.0 330.7C1678.9 333.9 1681.8 337.1 1684.7 340.4C1687.5 343.7 1690.4 347.0 1693.1 350.4C1695.9 353.7 1698.6 357.1 1701.3 360.6C1704.0 364.1 1706.6 367.6 1709.2 371.1C1711.8 374.7 1714.3 378.3 1716.8 381.9C1719.3 385.5 1721.7 389.2 1724.1 392.9C1726.5 396.7 1728.8 400.4 1731.1 404.2C1733.3 408.0 1735.5 411.9 1737.7 415.8C1739.8 419.6 1741.9 423.6 1743.9 427.5C1746.0 431.5 1747.9 435.5 1749.8 439.5C1751.7 443.5 1753.6 447.6 1755.3 451.7C1757.1 455.8 1758.8 459.9 1760.4 464.1C1762.1 468.3 1763.6 472.5 1765.1 476.7C1766.6 480.9 1768.0 485.2 1769.4 489.4C1770.7 493.7 1772.0 498.0 1773.2 502.3C1774.4 506.7 1775.6 511.0 1776.6 515.4C1777.7 519.8 1778.7 524.2 1779.6 528.6C1780.5 533.0 1781.3 537.4 1782.0 541.8C1782.8 546.3 1783.5 550.7 1784.1 555.2C1784.6 559.7 1785.2 564.1 1785.6 568.6C1786.0 573.1 1786.4 577.6 1786.7 582.1C1786.9 586.6 1787.1 591.1 1787.2 595.6C1787.4 600.1 1787.4 604.6 1787.4 609.1C1787.3 613.6 1787.2 618.1 1787.0 622.6C1786.8 627.1 1786.5 631.6 1786.1 636.1C1785.8 640.6 1785.3 645.1 1784.8 649.6C1784.3 654.0 1783.7 658.5 1783.0 663.0C1782.3 667.4 1781.6 671.8 1780.8 676.3C1779.9 680.7 1779.0 685.1 1778.0 689.5C1777.1 693.8 1776.0 698.2 1774.9 702.5C1773.7 706.9 1772.5 711.2 1771.3 715.5C1770.0 719.8 1768.6 724.0 1767.2 728.3C1765.8 732.5 1764.3 736.7 1762.8 740.9C1761.2 745.1 1759.6 749.3 1757.9 753.4C1756.2 757.5 1754.4 761.6 1752.6 765.7C1750.8 769.7 1748.9 773.7 1747.0 777.7C1745.0 781.7 1743.0 785.7 1741.0 789.6C1738.9 793.5 1736.8 797.4 1734.6 801.2C1732.4 805.0 1730.2 808.8 1727.9 812.6C1725.6 816.4 1723.2 820.1 1720.8 823.7C1718.4 827.4 1716.0 831.1 1713.5 834.6C1711.0 838.2 1708.4 841.8 1705.8 845.3C1703.2 848.8 1700.6 852.2 1697.9 855.7C1695.2 859.1 1692.4 862.4 1689.7 865.8C1686.9 869.1 1684.1 872.4 1681.2 875.6C1678.3 878.8 1675.4 882.0 1672.5 885.1C1669.5 888.3 1666.6 891.4 1663.5 894.4C1660.5 897.5 1657.5 900.5 1654.4 903.4C1651.3 906.4 1648.2 909.3 1645.0 912.1C1641.9 915.0 1638.7 917.8 1635.5 920.5C1632.3 923.3 1629.0 926.0 1625.8 928.7C1622.5 931.3 1619.2 934.0 1615.9 936.5C1612.6 939.1 1609.2 941.6 1605.8 944.1C1602.5 946.6 1599.1 949.0 1595.6 951.4C1592.2 953.7 1588.8 956.1 1585.3 958.4C1581.9 960.6 1578.4 962.9 1574.9 965.1C1571.4 967.3 1567.9 969.4 1564.3 971.5C1560.8 973.6 1557.2 975.7 1553.7 977.7C1550.1 979.7 1546.5 981.6 1542.9 983.5C1539.3 985.5 1535.7 987.3 1532.1 989.2C1528.4 991.0 1524.8 992.8 1521.1 994.5C1517.5 996.2 1513.8 997.9 1510.1 999.6C1506.5 1001.2 1502.8 1002.8 1499.1 1004.4C1495.4 1005.9 1491.7 1007.4 1487.9 1008.9C1484.2 1010.4 1480.5 1011.8 1476.8 1013.2C1473.0 1014.6 1469.3 1015.9 1465.5 1017.2C1461.8 1018.5 1458.0 1019.8 1454.3 1021.0C1450.5 1022.2 1446.7 1023.4 1442.9 1024.5C1439.2 1025.7 1435.4 1026.8 1431.6 1027.8C1427.8 1028.9 1424.0 1029.9 1420.2 1030.9C1416.4 1031.8 1412.6 1032.8 1408.8 1033.7C1405.0 1034.6 1401.2 1035.4 1397.4 1036.2C1393.6 1037.1 1389.8 1037.8 1385.9 1038.6C1382.1 1039.3 1378.3 1040.0 1374.5 1040.7C1370.7 1041.3 1366.8 1042.0 1363.0 1042.6C1359.2 1043.1 1355.3 1043.7 1351.5 1044.2C1347.7 1044.7 1343.8 1045.2 1340.0 1045.6C1336.2 1046.1 1332.3 1046.5 1328.5 1046.9C1324.7 1047.2 1320.8 1047.5 1317.0 1047.8C1313.1 1048.1 1309.3 1048.4 1305.5 1048.6C1301.6 1048.8 1297.8 1049.0 1293.9 1049.2C1290.1 1049.3 1286.2 1049.4 1282.4 1049.5C1278.6 1049.6 1274.7 1049.6 1270.9 1049.6C1267.0 1049.7 1263.2 1049.6 1259.3 1049.6C1255.5 1049.5 1251.7 1049.4 1247.8 1049.3C1244.0 1049.1 1240.1 1049.0 1236.3 1048.8C1232.4 1048.6 1228.6 1048.3 1224.7 1048.0C1220.9 1047.8 1217.1 1047.5 1213.2 1047.1C1209.4 1046.8 1205.5 1046.4 1201.7 1046.0C1197.8 1045.5 1194.0 1045.1 1190.2 1044.6C1186.3 1044.1 1182.5 1043.6 1178.6 1043.0C1174.8 1042.4 1171.0 1041.9 1167.1 1041.2C1163.3 1040.6 1159.5 1039.9 1155.6 1039.2C1151.8 1038.5 1148.0 1037.7 1144.1 1037.0C1140.3 1036.2 1136.5 1035.3 1132.7 1034.5C1128.8 1033.6 1125.0 1032.7 1121.2 1031.8C1117.4 1030.8 1113.6 1029.9 1109.8 1028.9C1105.9 1027.8 1102.1 1026.8 1098.3 1025.7C1094.5 1024.6 1090.7 1023.5 1086.9 1022.3C1083.1 1021.1 1079.3 1019.9 1075.5 1018.6C1071.8 1017.4 1068.0 1016.1 1064.2 1014.7C1060.4 1013.4 1056.7 1012.0 1052.9 1010.6C1049.1 1009.2 1045.4 1007.7 1041.6 1006.2C1037.9 1004.7 1034.1 1003.1 1030.4 1001.5C1026.7 999.9 1022.9 998.3 1019.2 996.6C1015.5 994.9 1011.8 993.2 1008.1 991.4C1004.4 989.7 1000.8 987.8 997.1 986.0C993.4 984.1 989.8 982.2 986.1 980.2C982.5 978.3 978.9 976.3 975.2 974.2C971.6 972.1 968.0 970.0 964.5 967.9C960.9 965.7 957.3 963.5 953.8 961.3C950.2 959.0 946.7 956.7 943.2 954.4C939.7 952.0 936.2 949.7 932.8 947.2C929.3 944.8 925.9 942.3 922.5 939.7C919.1 937.2 915.7 934.6 912.4 931.9C909.0 929.3 905.7 926.6 902.4 923.9C899.1 921.1 895.8 918.3 892.6 915.5C889.3 912.6 886.1 909.7 883.0 906.8C879.8 903.8 876.7 900.8 873.6 897.8C870.5 894.7 867.4 891.6 864.4 888.5C861.4 885.3 858.4 882.1 855.5 878.9C852.6 875.6 849.7 872.3 846.8 869.0C844.0 865.6 841.2 862.2 838.4 858.8C835.7 855.4 833.0 851.9 830.3 848.3C827.7 844.8 825.1 841.2 822.5 837.6C820.0 833.9 817.5 830.3 815.1 826.5C812.6 822.8 810.3 819.0 807.9 815.2C805.6 811.4 803.4 807.6 801.2 803.7C799.0 799.8 796.8 795.9 794.8 791.9C792.7 787.9 790.7 783.9 788.8 779.8C786.8 775.8 785.0 771.7 783.2 767.6C781.4 763.5 779.6 759.3 778.0 755.1C776.3 750.9 774.7 746.7 773.2 742.5C771.7 738.2 770.3 733.9 768.9 729.6C767.6 725.3 766.3 721.0 765.1 716.6C763.9 712.3 762.7 707.9 761.7 703.5C760.6 699.1 759.7 694.7 758.8 690.2C757.9 685.8 757.1 681.3 756.4 676.9C755.6 672.4 755.0 667.9 754.4 663.4C753.9 658.9 753.4 654.4 753.0 649.9C752.6 645.4 752.3 640.8 752.0 636.3C751.8 631.8 751.7 627.3 751.6 622.7C751.5 618.2 751.5 613.7 751.6 609.1Z" /></clipPath>
<radialGradient id="gl" cx="0.55" cy="0.55" r="0.5">
<stop offset="0" stop-color="#c6dfec"/><stop offset="0.8" stop-color="#c7e0ed"/><stop offset="0.92" stop-color="#d0e5ef"/><stop offset="1" stop-color="#d8eaf2"/>
</radialGradient>
<radialGradient id="gr" cx="0.45" cy="0.55" r="0.5">
<stop offset="0" stop-color="#d5d6d5"/><stop offset="0.8" stop-color="#d6d7d6"/><stop offset="0.92" stop-color="#dadbd9"/><stop offset="1" stop-color="#e0e1df"/>
</radialGradient>
<linearGradient id="ol" gradientUnits="userSpaceOnUse" x1="213" y1="0" x2="340" y2="0">
<stop offset="0" stop-color="#ffffff" stop-opacity="0.6"/><stop offset="1" stop-color="#ffffff" stop-opacity="0"/>
</linearGradient>
<linearGradient id="or" gradientUnits="userSpaceOnUse" x1="1787" y1="0" x2="1615" y2="0">
<stop offset="0" stop-color="#ffffff" stop-opacity="0.6"/><stop offset="1" stop-color="#ffffff" stop-opacity="0"/>
</linearGradient>
<clipPath id="cr"><path d="M757.1 609.1C757.2 604.6 757.4 600.2 757.7 595.7C758.0 591.2 758.3 586.7 758.7 582.3C759.2 577.8 759.7 573.4 760.3 568.9C760.8 564.5 761.5 560.1 762.3 555.7C763.0 551.3 763.8 546.9 764.7 542.5C765.6 538.1 766.6 533.8 767.7 529.4C768.7 525.1 769.9 520.8 771.1 516.5C772.3 512.2 773.6 507.9 774.9 503.7C776.3 499.5 777.7 495.3 779.2 491.1C780.7 486.9 782.2 482.8 783.9 478.6C785.5 474.5 787.2 470.4 789.0 466.4C790.7 462.3 792.6 458.3 794.5 454.3C796.3 450.3 798.3 446.4 800.3 442.5C802.3 438.6 804.4 434.7 806.5 430.9C808.7 427.1 810.8 423.3 813.1 419.5C815.3 415.8 817.6 412.0 820.0 408.4C822.3 404.7 824.7 401.1 827.2 397.5C829.6 393.9 832.1 390.4 834.7 386.9C837.2 383.4 839.8 379.9 842.5 376.5C845.1 373.1 847.8 369.7 850.5 366.4C853.2 363.1 856.0 359.8 858.8 356.6C861.6 353.4 864.4 350.2 867.3 347.0C870.2 343.9 873.1 340.8 876.1 337.8C879.0 334.7 882.0 331.7 885.0 328.8C888.0 325.8 891.1 322.9 894.1 320.1C897.2 317.2 900.3 314.4 903.5 311.6C906.6 308.8 909.8 306.1 913.0 303.4C916.1 300.8 919.4 298.1 922.6 295.5C925.8 292.9 929.1 290.4 932.4 287.9C935.7 285.4 939.0 283.0 942.3 280.6C945.6 278.1 949.0 275.8 952.3 273.5C955.7 271.1 959.1 268.9 962.5 266.6C965.9 264.4 969.3 262.2 972.8 260.1C976.2 257.9 979.6 255.8 983.1 253.8C986.6 251.7 990.1 249.7 993.6 247.7C997.1 245.7 1000.6 243.8 1004.1 241.9C1007.6 240.0 1011.1 238.2 1014.7 236.4C1018.2 234.6 1021.8 232.8 1025.4 231.1C1028.9 229.4 1032.5 227.7 1036.1 226.0C1039.7 224.4 1043.3 222.8 1046.9 221.2C1050.5 219.6 1054.1 218.1 1057.8 216.6C1061.4 215.1 1065.0 213.7 1068.7 212.3C1072.3 210.9 1076.0 209.5 1079.6 208.2C1083.3 206.9 1087.0 205.6 1090.6 204.3C1094.3 203.0 1098.0 201.8 1101.7 200.7C1105.4 199.5 1109.1 198.3 1112.8 197.2C1116.5 196.1 1120.2 195.1 1123.9 194.0C1127.6 193.0 1131.3 192.0 1135.0 191.0C1138.8 190.1 1142.5 189.2 1146.2 188.3C1149.9 187.4 1153.7 186.6 1157.4 185.8C1161.2 184.9 1164.9 184.2 1168.7 183.4C1172.4 182.7 1176.2 182.0 1179.9 181.3C1183.7 180.7 1187.5 180.1 1191.2 179.5C1195.0 178.9 1198.8 178.3 1202.6 177.8C1206.3 177.3 1210.1 176.8 1213.9 176.4C1217.7 175.9 1221.5 175.5 1225.3 175.1C1229.0 174.8 1232.8 174.4 1236.6 174.1C1240.4 173.8 1244.2 173.6 1248.0 173.4C1251.8 173.1 1255.6 172.9 1259.4 172.8C1263.3 172.6 1267.1 172.5 1270.9 172.5C1274.7 172.4 1278.5 172.3 1282.3 172.3C1286.1 172.3 1289.9 172.4 1293.8 172.4C1297.6 172.5 1301.4 172.6 1305.2 172.8C1309.0 172.9 1312.9 173.1 1316.7 173.3C1320.5 173.5 1324.3 173.8 1328.1 174.1C1332.0 174.4 1335.8 174.7 1339.6 175.1C1343.4 175.5 1347.3 175.9 1351.1 176.4C1354.9 176.8 1358.7 177.3 1362.5 177.9C1366.4 178.4 1370.2 179.0 1374.0 179.6C1377.8 180.2 1381.6 180.8 1385.4 181.5C1389.3 182.2 1393.1 183.0 1396.9 183.7C1400.7 184.5 1404.5 185.3 1408.3 186.2C1412.1 187.0 1415.9 187.9 1419.7 188.9C1423.5 189.8 1427.3 190.8 1431.1 191.8C1434.9 192.8 1438.6 193.9 1442.4 195.0C1446.2 196.1 1450.0 197.3 1453.7 198.4C1457.5 199.6 1461.2 200.9 1465.0 202.1C1468.7 203.4 1472.5 204.7 1476.2 206.1C1480.0 207.5 1483.7 208.9 1487.4 210.3C1491.1 211.8 1494.8 213.3 1498.5 214.8C1502.2 216.4 1505.9 217.9 1509.6 219.6C1513.3 221.2 1516.9 222.9 1520.6 224.6C1524.2 226.3 1527.9 228.1 1531.5 229.9C1535.1 231.7 1538.7 233.6 1542.3 235.5C1545.9 237.4 1549.5 239.3 1553.1 241.3C1556.7 243.3 1560.2 245.4 1563.7 247.5C1567.3 249.6 1570.8 251.7 1574.3 253.9C1577.8 256.1 1581.2 258.3 1584.7 260.6C1588.2 262.9 1591.6 265.2 1595.0 267.6C1598.4 270.0 1601.8 272.4 1605.2 274.8C1608.5 277.3 1611.9 279.8 1615.2 282.4C1618.5 285.0 1621.8 287.6 1625.0 290.3C1628.3 292.9 1631.5 295.6 1634.7 298.4C1637.9 301.2 1641.1 304.0 1644.2 306.8C1647.3 309.7 1650.4 312.6 1653.5 315.5C1656.5 318.5 1659.6 321.5 1662.6 324.5C1665.6 327.6 1668.5 330.7 1671.4 333.8C1674.4 337.0 1677.2 340.2 1680.1 343.4C1682.9 346.6 1685.7 349.9 1688.4 353.2C1691.2 356.6 1693.9 359.9 1696.6 363.4C1699.2 366.8 1701.8 370.2 1704.4 373.7C1706.9 377.3 1709.5 380.8 1711.9 384.4C1714.4 388.0 1716.8 391.6 1719.1 395.3C1721.5 399.0 1723.8 402.7 1726.0 406.5C1728.3 410.2 1730.5 414.0 1732.6 417.9C1734.7 421.7 1736.8 425.6 1738.8 429.5C1740.8 433.4 1742.8 437.4 1744.6 441.4C1746.5 445.3 1748.4 449.4 1750.1 453.4C1751.9 457.5 1753.5 461.6 1755.2 465.7C1756.8 469.8 1758.3 473.9 1759.8 478.1C1761.3 482.3 1762.7 486.5 1764.0 490.7C1765.4 495.0 1766.7 499.2 1767.9 503.5C1769.0 507.8 1770.2 512.1 1771.2 516.4C1772.3 520.7 1773.2 525.1 1774.1 529.4C1775.0 533.8 1775.8 538.2 1776.6 542.5C1777.3 546.9 1778.0 551.3 1778.6 555.8C1779.2 560.2 1779.7 564.6 1780.1 569.0C1780.5 573.5 1780.9 577.9 1781.2 582.4C1781.4 586.8 1781.6 591.3 1781.7 595.7C1781.9 600.2 1781.9 604.7 1781.9 609.1C1781.8 613.6 1781.7 618.0 1781.5 622.5C1781.3 626.9 1781.0 631.4 1780.6 635.8C1780.3 640.3 1779.8 644.7 1779.3 649.1C1778.8 653.6 1778.2 658.0 1777.5 662.4C1776.9 666.8 1776.1 671.2 1775.3 675.5C1774.5 679.9 1773.6 684.3 1772.6 688.6C1771.6 692.9 1770.6 697.2 1769.5 701.5C1768.3 705.8 1767.1 710.1 1765.9 714.3C1764.6 718.6 1763.3 722.8 1761.9 727.0C1760.5 731.2 1759.0 735.4 1757.4 739.5C1755.9 743.6 1754.3 747.7 1752.6 751.8C1750.9 755.9 1749.2 759.9 1747.4 764.0C1745.6 768.0 1743.7 771.9 1741.8 775.9C1739.9 779.8 1737.9 783.7 1735.8 787.6C1733.8 791.5 1731.7 795.3 1729.5 799.1C1727.3 802.9 1725.1 806.6 1722.8 810.4C1720.6 814.1 1718.2 817.7 1715.9 821.4C1713.5 825.0 1711.1 828.6 1708.6 832.1C1706.1 835.7 1703.6 839.2 1701.0 842.7C1698.4 846.1 1695.8 849.5 1693.1 852.9C1690.4 856.3 1687.7 859.6 1685.0 862.9C1682.2 866.2 1679.4 869.4 1676.6 872.6C1673.7 875.8 1670.9 878.9 1668.0 882.0C1665.0 885.1 1662.1 888.2 1659.1 891.2C1656.1 894.2 1653.1 897.2 1650.0 900.1C1647.0 903.0 1643.9 905.8 1640.8 908.7C1637.6 911.5 1634.5 914.2 1631.3 917.0C1628.1 919.7 1624.9 922.4 1621.7 925.0C1618.4 927.6 1615.2 930.2 1611.9 932.7C1608.6 935.3 1605.3 937.8 1601.9 940.2C1598.6 942.6 1595.2 945.0 1591.9 947.4C1588.5 949.7 1585.1 952.0 1581.6 954.3C1578.2 956.5 1574.8 958.7 1571.3 960.9C1567.8 963.1 1564.4 965.2 1560.9 967.2C1557.4 969.3 1553.8 971.3 1550.3 973.3C1546.8 975.3 1543.2 977.2 1539.7 979.1C1536.1 981.0 1532.5 982.8 1528.9 984.6C1525.4 986.4 1521.8 988.2 1518.1 989.9C1514.5 991.6 1510.9 993.2 1507.3 994.9C1503.6 996.5 1500.0 998.1 1496.3 999.6C1492.7 1001.1 1489.0 1002.6 1485.3 1004.1C1481.6 1005.5 1478.0 1006.9 1474.3 1008.3C1470.6 1009.7 1466.9 1011.0 1463.2 1012.3C1459.5 1013.5 1455.7 1014.8 1452.0 1016.0C1448.3 1017.2 1444.6 1018.3 1440.8 1019.5C1437.1 1020.6 1433.4 1021.6 1429.6 1022.7C1425.9 1023.7 1422.1 1024.7 1418.4 1025.7C1414.6 1026.6 1410.9 1027.6 1407.1 1028.4C1403.4 1029.3 1399.6 1030.2 1395.8 1031.0C1392.1 1031.8 1388.3 1032.5 1384.5 1033.3C1380.7 1034.0 1377.0 1034.7 1373.2 1035.3C1369.4 1036.0 1365.6 1036.6 1361.9 1037.2C1358.1 1037.8 1354.3 1038.3 1350.5 1038.8C1346.7 1039.3 1342.9 1039.8 1339.1 1040.2C1335.4 1040.6 1331.6 1041.0 1327.8 1041.4C1324.0 1041.8 1320.2 1042.1 1316.4 1042.4C1312.6 1042.7 1308.8 1042.9 1305.0 1043.1C1301.2 1043.4 1297.4 1043.5 1293.6 1043.7C1289.9 1043.8 1286.1 1043.9 1282.3 1044.0C1278.5 1044.1 1274.7 1044.1 1270.9 1044.1C1267.1 1044.2 1263.3 1044.1 1259.5 1044.1C1255.7 1044.0 1251.9 1043.9 1248.1 1043.8C1244.3 1043.6 1240.5 1043.5 1236.7 1043.3C1232.9 1043.1 1229.1 1042.8 1225.3 1042.6C1221.5 1042.3 1217.7 1042.0 1213.9 1041.7C1210.1 1041.3 1206.3 1040.9 1202.5 1040.5C1198.8 1040.1 1195.0 1039.7 1191.2 1039.2C1187.4 1038.7 1183.6 1038.2 1179.8 1037.6C1176.0 1037.1 1172.2 1036.5 1168.4 1035.9C1164.6 1035.2 1160.8 1034.6 1157.1 1033.9C1153.3 1033.2 1149.5 1032.4 1145.7 1031.7C1141.9 1030.9 1138.1 1030.1 1134.4 1029.3C1130.6 1028.4 1126.8 1027.5 1123.0 1026.6C1119.3 1025.7 1115.5 1024.7 1111.7 1023.7C1108.0 1022.7 1104.2 1021.7 1100.4 1020.6C1096.7 1019.5 1092.9 1018.4 1089.2 1017.3C1085.4 1016.1 1081.7 1014.9 1077.9 1013.7C1074.2 1012.4 1070.4 1011.2 1066.7 1009.8C1063.0 1008.5 1059.2 1007.2 1055.5 1005.8C1051.8 1004.4 1048.1 1002.9 1044.4 1001.4C1040.7 1000.0 1037.0 998.4 1033.3 996.9C1029.6 995.3 1025.9 993.7 1022.2 992.0C1018.6 990.3 1014.9 988.6 1011.2 986.9C1007.6 985.1 1003.9 983.4 1000.3 981.5C996.7 979.7 993.1 977.8 989.5 975.9C985.9 973.9 982.3 971.9 978.7 969.9C975.1 967.9 971.6 965.8 968.0 963.7C964.5 961.6 961.0 959.4 957.5 957.2C954.0 955.0 950.5 952.7 947.0 950.4C943.5 948.1 940.1 945.7 936.7 943.3C933.3 940.9 929.9 938.4 926.5 935.9C923.1 933.4 919.8 930.9 916.4 928.3C913.1 925.6 909.8 923.0 906.6 920.3C903.3 917.6 900.1 914.8 896.9 912.0C893.7 909.2 890.5 906.3 887.3 903.4C884.2 900.5 881.1 897.5 878.0 894.5C875.0 891.5 871.9 888.5 869.0 885.4C866.0 882.2 863.0 879.1 860.1 875.9C857.2 872.7 854.3 869.4 851.5 866.1C848.7 862.8 845.9 859.4 843.2 856.0C840.5 852.6 837.8 849.2 835.2 845.7C832.5 842.2 830.0 838.7 827.4 835.1C824.9 831.5 822.4 827.8 820.0 824.2C817.6 820.5 815.3 816.8 813.0 813.0C810.7 809.2 808.4 805.4 806.3 801.6C804.1 797.7 802.0 793.8 799.9 789.9C797.9 786.0 795.9 782.0 794.0 778.0C792.0 774.0 790.2 770.0 788.4 765.9C786.6 761.8 784.9 757.7 783.3 753.6C781.6 749.4 780.0 745.2 778.5 741.0C777.0 736.8 775.6 732.6 774.3 728.3C772.9 724.1 771.6 719.8 770.5 715.5C769.3 711.2 768.1 706.8 767.1 702.5C766.1 698.1 765.1 693.8 764.2 689.4C763.3 685.0 762.5 680.6 761.8 676.1C761.1 671.7 760.4 667.3 759.9 662.8C759.3 658.4 758.9 653.9 758.5 649.5C758.1 645.0 757.8 640.5 757.5 636.0C757.3 631.6 757.1 627.1 757.1 622.6C757.0 618.1 757.0 613.6 757.1 609.1Z" /></clipPath>
<radialGradient id="gi" gradientUnits="userSpaceOnUse" cx="0" cy="0" r="1" gradientTransform="translate(1000 612) scale(250 375)">
<stop offset="0" stop-color="#4780a3"/><stop offset="0.8" stop-color="#4a83a6"/><stop offset="1" stop-color="#538bad"/>
</radialGradient>
</defs>
<path d="M757.1 609.1C757.2 604.6 757.4 600.2 757.7 595.7C758.0 591.2 758.3 586.7 758.7 582.3C759.2 577.8 759.7 573.4 760.3 568.9C760.8 564.5 761.5 560.1 762.3 555.7C763.0 551.3 763.8 546.9 764.7 542.5C765.6 538.1 766.6 533.8 767.7 529.4C768.7 525.1 769.9 520.8 771.1 516.5C772.3 512.2 773.6 507.9 774.9 503.7C776.3 499.5 777.7 495.3 779.2 491.1C780.7 486.9 782.2 482.8 783.9 478.6C785.5 474.5 787.2 470.4 789.0 466.4C790.7 462.3 792.6 458.3 794.5 454.3C796.3 450.3 798.3 446.4 800.3 442.5C802.3 438.6 804.4 434.7 806.5 430.9C808.7 427.1 810.8 423.3 813.1 419.5C815.3 415.8 817.6 412.0 820.0 408.4C822.3 404.7 824.7 401.1 827.2 397.5C829.6 393.9 832.1 390.4 834.7 386.9C837.2 383.4 839.8 379.9 842.5 376.5C845.1 373.1 847.8 369.7 850.5 366.4C853.2 363.1 856.0 359.8 858.8 356.6C861.6 353.4 864.4 350.2 867.3 347.0C870.2 343.9 873.1 340.8 876.1 337.8C879.0 334.7 882.0 331.7 885.0 328.8C888.0 325.8 891.1 322.9 894.1 320.1C897.2 317.2 900.3 314.4 903.5 311.6C906.6 308.8 909.8 306.1 913.0 303.4C916.1 300.8 919.4 298.1 922.6 295.5C925.8 292.9 929.1 290.4 932.4 287.9C935.7 285.4 939.0 283.0 942.3 280.6C945.6 278.1 949.0 275.8 952.3 273.5C955.7 271.1 959.1 268.9 962.5 266.6C965.9 264.4 969.3 262.2 972.8 260.1C976.2 257.9 979.6 255.8 983.1 253.8C986.6 251.7 990.1 249.7 993.6 247.7C997.1 245.7 1000.6 243.8 1004.1 241.9C1007.6 240.0 1011.1 238.2 1014.7 236.4C1018.2 234.6 1021.8 232.8 1025.4 231.1C1028.9 229.4 1032.5 227.7 1036.1 226.0C1039.7 224.4 1043.3 222.8 1046.9 221.2C1050.5 219.6 1054.1 218.1 1057.8 216.6C1061.4 215.1 1065.0 213.7 1068.7 212.3C1072.3 210.9 1076.0 209.5 1079.6 208.2C1083.3 206.9 1087.0 205.6 1090.6 204.3C1094.3 203.0 1098.0 201.8 1101.7 200.7C1105.4 199.5 1109.1 198.3 1112.8 197.2C1116.5 196.1 1120.2 195.1 1123.9 194.0C1127.6 193.0 1131.3 192.0 1135.0 191.0C1138.8 190.1 1142.5 189.2 1146.2 188.3C1149.9 187.4 1153.7 186.6 1157.4 185.8C1161.2 184.9 1164.9 184.2 1168.7 183.4C1172.4 182.7 1176.2 182.0 1179.9 181.3C1183.7 180.7 1187.5 180.1 1191.2 179.5C1195.0 178.9 1198.8 178.3 1202.6 177.8C1206.3 177.3 1210.1 176.8 1213.9 176.4C1217.7 175.9 1221.5 175.5 1225.3 175.1C1229.0 174.8 1232.8 174.4 1236.6 174.1C1240.4 173.8 1244.2 173.6 1248.0 173.4C1251.8 173.1 1255.6 172.9 1259.4 172.8C1263.3 172.6 1267.1 172.5 1270.9 172.5C1274.7 172.4 1278.5 172.3 1282.3 172.3C1286.1 172.3 1289.9 172.4 1293.8 172.4C1297.6 172.5 1301.4 172.6 1305.2 172.8C1309.0 172.9 1312.9 173.1 1316.7 173.3C1320.5 173.5 1324.3 173.8 1328.1 174.1C1332.0 174.4 1335.8 174.7 1339.6 175.1C1343.4 175.5 1347.3 175.9 1351.1 176.4C1354.9 176.8 1358.7 177.3 1362.5 177.9C1366.4 178.4 1370.2 179.0 1374.0 179.6C1377.8 180.2 1381.6 180.8 1385.4 181.5C1389.3 182.2 1393.1 183.0 1396.9 183.7C1400.7 184.5 1404.5 185.3 1408.3 186.2C1412.1 187.0 1415.9 187.9 1419.7 188.9C1423.5 189.8 1427.3 190.8 1431.1 191.8C1434.9 192.8 1438.6 193.9 1442.4 195.0C1446.2 196.1 1450.0 197.3 1453.7 198.4C1457.5 199.6 1461.2 200.9 1465.0 202.1C1468.7 203.4 1472.5 204.7 1476.2 206.1C1480.0 207.5 1483.7 208.9 1487.4 210.3C1491.1 211.8 1494.8 213.3 1498.5 214.8C1502.2 216.4 1505.9 217.9 1509.6 219.6C1513.3 221.2 1516.9 222.9 1520.6 224.6C1524.2 226.3 1527.9 228.1 1531.5 229.9C1535.1 231.7 1538.7 233.6 1542.3 235.5C1545.9 237.4 1549.5 239.3 1553.1 241.3C1556.7 243.3 1560.2 245.4 1563.7 247.5C1567.3 249.6 1570.8 251.7 1574.3 253.9C1577.8 256.1 1581.2 258.3 1584.7 260.6C1588.2 262.9 1591.6 265.2 1595.0 267.6C1598.4 270.0 1601.8 272.4 1605.2 274.8C1608.5 277.3 1611.9 279.8 1615.2 282.4C1618.5 285.0 1621.8 287.6 1625.0 290.3C1628.3 292.9 1631.5 295.6 1634.7 298.4C1637.9 301.2 1641.1 304.0 1644.2 306.8C1647.3 309.7 1650.4 312.6 1653.5 315.5C1656.5 318.5 1659.6 321.5 1662.6 324.5C1665.6 327.6 1668.5 330.7 1671.4 333.8C1674.4 337.0 1677.2 340.2 1680.1 343.4C1682.9 346.6 1685.7 349.9 1688.4 353.2C1691.2 356.6 1693.9 359.9 1696.6 363.4C1699.2 366.8 1701.8 370.2 1704.4 373.7C1706.9 377.3 1709.5 380.8 1711.9 384.4C1714.4 388.0 1716.8 391.6 1719.1 395.3C1721.5 399.0 1723.8 402.7 1726.0 406.5C1728.3 410.2 1730.5 414.0 1732.6 417.9C1734.7 421.7 1736.8 425.6 1738.8 429.5C1740.8 433.4 1742.8 437.4 1744.6 441.4C1746.5 445.3 1748.4 449.4 1750.1 453.4C1751.9 457.5 1753.5 461.6 1755.2 465.7C1756.8 469.8 1758.3 473.9 1759.8 478.1C1761.3 482.3 1762.7 486.5 1764.0 490.7C1765.4 495.0 1766.7 499.2 1767.9 503.5C1769.0 507.8 1770.2 512.1 1771.2 516.4C1772.3 520.7 1773.2 525.1 1774.1 529.4C1775.0 533.8 1775.8 538.2 1776.6 542.5C1777.3 546.9 1778.0 551.3 1778.6 555.8C1779.2 560.2 1779.7 564.6 1780.1 569.0C1780.5 573.5 1780.9 577.9 1781.2 582.4C1781.4 586.8 1781.6 591.3 1781.7 595.7C1781.9 600.2 1781.9 604.7 1781.9 609.1C1781.8 613.6 1781.7 618.0 1781.5 622.5C1781.3 626.9 1781.0 631.4 1780.6 635.8C1780.3 640.3 1779.8 644.7 1779.3 649.1C1778.8 653.6 1778.2 658.0 1777.5 662.4C1776.9 666.8 1776.1 671.2 1775.3 675.5C1774.5 679.9 1773.6 684.3 1772.6 688.6C1771.6 692.9 1770.6 697.2 1769.5 701.5C1768.3 705.8 1767.1 710.1 1765.9 714.3C1764.6 718.6 1763.3 722.8 1761.9 727.0C1760.5 731.2 1759.0 735.4 1757.4 739.5C1755.9 743.6 1754.3 747.7 1752.6 751.8C1750.9 755.9 1749.2 759.9 1747.4 764.0C1745.6 768.0 1743.7 771.9 1741.8 775.9C1739.9 779.8 1737.9 783.7 1735.8 787.6C1733.8 791.5 1731.7 795.3 1729.5 799.1C1727.3 802.9 1725.1 806.6 1722.8 810.4C1720.6 814.1 1718.2 817.7 1715.9 821.4C1713.5 825.0 1711.1 828.6 1708.6 832.1C1706.1 835.7 1703.6 839.2 1701.0 842.7C1698.4 846.1 1695.8 849.5 1693.1 852.9C1690.4 856.3 1687.7 859.6 1685.0 862.9C1682.2 866.2 1679.4 869.4 1676.6 872.6C1673.7 875.8 1670.9 878.9 1668.0 882.0C1665.0 885.1 1662.1 888.2 1659.1 891.2C1656.1 894.2 1653.1 897.2 1650.0 900.1C1647.0 903.0 1643.9 905.8 1640.8 908.7C1637.6 911.5 1634.5 914.2 1631.3 917.0C1628.1 919.7 1624.9 922.4 1621.7 925.0C1618.4 927.6 1615.2 930.2 1611.9 932.7C1608.6 935.3 1605.3 937.8 1601.9 940.2C1598.6 942.6 1595.2 945.0 1591.9 947.4C1588.5 949.7 1585.1 952.0 1581.6 954.3C1578.2 956.5 1574.8 958.7 1571.3 960.9C1567.8 963.1 1564.4 965.2 1560.9 967.2C1557.4 969.3 1553.8 971.3 1550.3 973.3C1546.8 975.3 1543.2 977.2 1539.7 979.1C1536.1 981.0 1532.5 982.8 1528.9 984.6C1525.4 986.4 1521.8 988.2 1518.1 989.9C1514.5 991.6 1510.9 993.2 1507.3 994.9C1503.6 996.5 1500.0 998.1 1496.3 999.6C1492.7 1001.1 1489.0 1002.6 1485.3 1004.1C1481.6 1005.5 1478.0 1006.9 1474.3 1008.3C1470.6 1009.7 1466.9 1011.0 1463.2 1012.3C1459.5 1013.5 1455.7 1014.8 1452.0 1016.0C1448.3 1017.2 1444.6 1018.3 1440.8 1019.5C1437.1 1020.6 1433.4 1021.6 1429.6 1022.7C1425.9 1023.7 1422.1 1024.7 1418.4 1025.7C1414.6 1026.6 1410.9 1027.6 1407.1 1028.4C1403.4 1029.3 1399.6 1030.2 1395.8 1031.0C1392.1 1031.8 1388.3 1032.5 1384.5 1033.3C1380.7 1034.0 1377.0 1034.7 1373.2 1035.3C1369.4 1036.0 1365.6 1036.6 1361.9 1037.2C1358.1 1037.8 1354.3 1038.3 1350.5 1038.8C1346.7 1039.3 1342.9 1039.8 1339.1 1040.2C1335.4 1040.6 1331.6 1041.0 1327.8 1041.4C1324.0 1041.8 1320.2 1042.1 1316.4 1042.4C1312.6 1042.7 1308.8 1042.9 1305.0 1043.1C1301.2 1043.4 1297.4 1043.5 1293.6 1043.7C1289.9 1043.8 1286.1 1043.9 1282.3 1044.0C1278.5 1044.1 1274.7 1044.1 1270.9 1044.1C1267.1 1044.2 1263.3 1044.1 1259.5 1044.1C1255.7 1044.0 1251.9 1043.9 1248.1 1043.8C1244.3 1043.6 1240.5 1043.5 1236.7 1043.3C1232.9 1043.1 1229.1 1042.8 1225.3 1042.6C1221.5 1042.3 1217.7 1042.0 1213.9 1041.7C1210.1 1041.3 1206.3 1040.9 1202.5 1040.5C1198.8 1040.1 1195.0 1039.7 1191.2 1039.2C1187.4 1038.7 1183.6 1038.2 1179.8 1037.6C1176.0 1037.1 1172.2 1036.5 1168.4 1035.9C1164.6 1035.2 1160.8 1034.6 1157.1 1033.9C1153.3 1033.2 1149.5 1032.4 1145.7 1031.7C1141.9 1030.9 1138.1 1030.1 1134.4 1029.3C1130.6 1028.4 1126.8 1027.5 1123.0 1026.6C1119.3 1025.7 1115.5 1024.7 1111.7 1023.7C1108.0 1022.7 1104.2 1021.7 1100.4 1020.6C1096.7 1019.5 1092.9 1018.4 1089.2 1017.3C1085.4 1016.1 1081.7 1014.9 1077.9 1013.7C1074.2 1012.4 1070.4 1011.2 1066.7 1009.8C1063.0 1008.5 1059.2 1007.2 1055.5 1005.8C1051.8 1004.4 1048.1 1002.9 1044.4 1001.4C1040.7 1000.0 1037.0 998.4 1033.3 996.9C1029.6 995.3 1025.9 993.7 1022.2 992.0C1018.6 990.3 1014.9 988.6 1011.2 986.9C1007.6 985.1 1003.9 983.4 1000.3 981.5C996.7 979.7 993.1 977.8 989.5 975.9C985.9 973.9 982.3 971.9 978.7 969.9C975.1 967.9 971.6 965.8 968.0 963.7C964.5 961.6 961.0 959.4 957.5 957.2C954.0 955.0 950.5 952.7 947.0 950.4C943.5 948.1 940.1 945.7 936.7 943.3C933.3 940.9 929.9 938.4 926.5 935.9C923.1 933.4 919.8 930.9 916.4 928.3C913.1 925.6 909.8 923.0 906.6 920.3C903.3 917.6 900.1 914.8 896.9 912.0C893.7 909.2 890.5 906.3 887.3 903.4C884.2 900.5 881.1 897.5 878.0 894.5C875.0 891.5 871.9 888.5 869.0 885.4C866.0 882.2 863.0 879.1 860.1 875.9C857.2 872.7 854.3 869.4 851.5 866.1C848.7 862.8 845.9 859.4 843.2 856.0C840.5 852.6 837.8 849.2 835.2 845.7C832.5 842.2 830.0 838.7 827.4 835.1C824.9 831.5 822.4 827.8 820.0 824.2C817.6 820.5 815.3 816.8 813.0 813.0C810.7 809.2 808.4 805.4 806.3 801.6C804.1 797.7 802.0 793.8 799.9 789.9C797.9 786.0 795.9 782.0 794.0 778.0C792.0 774.0 790.2 770.0 788.4 765.9C786.6 761.8 784.9 757.7 783.3 753.6C781.6 749.4 780.0 745.2 778.5 741.0C777.0 736.8 775.6 732.6 774.3 728.3C772.9 724.1 771.6 719.8 770.5 715.5C769.3 711.2 768.1 706.8 767.1 702.5C766.1 698.1 765.1 693.8 764.2 689.4C763.3 685.0 762.5 680.6 761.8 676.1C761.1 671.7 760.4 667.3 759.9 662.8C759.3 658.4 758.9 653.9 758.5 649.5C758.1 645.0 757.8 640.5 757.5 636.0C757.3 631.6 757.1 627.1 757.1 622.6C757.0 618.1 757.0 613.6 757.1 609.1Z" fill="url(#gr)"/>
<path d="M217.4 609.4C217.4 604.9 217.5 600.4 217.6 596.0C217.7 591.5 217.9 587.0 218.2 582.6C218.5 578.1 218.9 573.7 219.3 569.3C219.8 564.8 220.3 560.4 220.9 556.0C221.5 551.5 222.2 547.1 222.9 542.7C223.7 538.4 224.5 534.0 225.4 529.6C226.3 525.3 227.3 520.9 228.4 516.6C229.4 512.3 230.6 508.0 231.8 503.7C233.0 499.4 234.3 495.2 235.6 490.9C237.0 486.7 238.4 482.5 239.9 478.3C241.4 474.2 242.9 470.0 244.6 465.9C246.2 461.8 247.9 457.7 249.7 453.6C251.4 449.6 253.2 445.6 255.1 441.6C257.0 437.6 259.0 433.7 261.0 429.7C263.0 425.8 265.1 422.0 267.2 418.1C269.4 414.3 271.6 410.5 273.8 406.7C276.1 403.0 278.4 399.3 280.7 395.6C283.1 391.9 285.5 388.3 288.0 384.7C290.4 381.1 292.9 377.5 295.5 374.0C298.1 370.5 300.7 367.1 303.3 363.7C306.0 360.2 308.7 356.9 311.5 353.5C314.2 350.2 317.0 346.9 319.8 343.7C322.7 340.5 325.6 337.3 328.5 334.1C331.4 331.0 334.3 327.9 337.3 324.9C340.3 321.8 343.4 318.8 346.4 315.9C349.5 312.9 352.6 310.0 355.7 307.1C358.8 304.3 362.0 301.5 365.2 298.7C368.4 295.9 371.6 293.2 374.9 290.6C378.1 287.9 381.4 285.3 384.7 282.7C388.0 280.1 391.3 277.6 394.7 275.1C398.1 272.7 401.4 270.2 404.8 267.9C408.2 265.5 411.7 263.1 415.1 260.9C418.6 258.6 422.0 256.3 425.5 254.1C429.0 252.0 432.5 249.8 436.1 247.7C439.6 245.6 443.1 243.6 446.7 241.6C450.3 239.6 453.8 237.6 457.4 235.7C461.0 233.8 464.6 231.9 468.2 230.1C471.9 228.3 475.5 226.5 479.2 224.8C482.8 223.0 486.5 221.3 490.1 219.7C493.8 218.1 497.5 216.5 501.2 214.9C504.9 213.4 508.6 211.9 512.3 210.4C516.0 208.9 519.7 207.5 523.5 206.1C527.2 204.8 530.9 203.4 534.7 202.1C538.4 200.9 542.2 199.6 546.0 198.4C549.7 197.2 553.5 196.0 557.3 194.9C561.0 193.8 564.8 192.7 568.6 191.7C572.4 190.7 576.2 189.7 580.0 188.7C583.8 187.8 587.6 186.9 591.4 186.0C595.2 185.1 599.0 184.3 602.8 183.5C606.6 182.7 610.4 182.0 614.2 181.3C618.0 180.6 621.8 179.9 625.7 179.3C629.5 178.7 633.3 178.1 637.1 177.5C641.0 177.0 644.8 176.5 648.6 176.0C652.4 175.6 656.3 175.1 660.1 174.7C663.9 174.4 667.7 174.0 671.6 173.7C675.4 173.4 679.2 173.1 683.0 172.9C686.9 172.6 690.7 172.5 694.5 172.3C698.3 172.1 702.2 172.0 706.0 171.9C709.8 171.9 713.6 171.8 717.5 171.8C721.3 171.8 725.1 171.8 728.9 171.9C732.7 172.0 736.6 172.1 740.4 172.2C744.2 172.4 748.0 172.6 751.8 172.8C755.6 173.0 759.4 173.2 763.2 173.5C767.0 173.8 770.8 174.2 774.6 174.5C778.4 174.9 782.2 175.3 786.0 175.7C789.8 176.2 793.6 176.7 797.4 177.2C801.2 177.7 804.9 178.2 808.7 178.8C812.5 179.4 816.3 180.0 820.0 180.7C823.8 181.4 827.6 182.1 831.3 182.8C835.1 183.5 838.8 184.3 842.6 185.1C846.3 185.9 850.1 186.8 853.8 187.6C857.6 188.5 861.3 189.4 865.0 190.4C868.8 191.4 872.5 192.3 876.2 193.4C879.9 194.4 883.7 195.5 887.4 196.6C891.1 197.7 894.8 198.8 898.5 200.0C902.2 201.2 905.9 202.4 909.5 203.7C913.2 204.9 916.9 206.2 920.6 207.6C924.2 208.9 927.9 210.3 931.5 211.7C935.2 213.1 938.8 214.6 942.5 216.0C946.1 217.5 949.7 219.1 953.3 220.6C957.0 222.2 960.6 223.8 964.2 225.5C967.8 227.1 971.3 228.8 974.9 230.5C978.5 232.3 982.1 234.0 985.6 235.9C989.2 237.7 992.7 239.5 996.2 241.4C999.8 243.3 1003.3 245.3 1006.8 247.2C1010.3 249.2 1013.8 251.2 1017.2 253.3C1020.7 255.4 1024.2 257.5 1027.6 259.6C1031.1 261.8 1034.5 264.0 1037.9 266.2C1041.3 268.5 1044.7 270.7 1048.1 273.1C1051.4 275.4 1054.8 277.8 1058.1 280.2C1061.4 282.6 1064.7 285.1 1068.0 287.6C1071.3 290.1 1074.6 292.6 1077.8 295.2C1081.1 297.8 1084.3 300.4 1087.5 303.1C1090.7 305.8 1093.8 308.5 1097.0 311.3C1100.1 314.1 1103.2 316.9 1106.3 319.8C1109.4 322.7 1112.4 325.6 1115.4 328.5C1118.5 331.5 1121.4 334.5 1124.4 337.6C1127.4 340.6 1130.3 343.7 1133.1 346.9C1136.0 350.0 1138.9 353.2 1141.7 356.4C1144.5 359.7 1147.2 362.9 1150.0 366.3C1152.7 369.6 1155.4 373.0 1158.0 376.4C1160.7 379.8 1163.3 383.3 1165.8 386.8C1168.3 390.3 1170.8 393.8 1173.3 397.4C1175.7 401.0 1178.2 404.6 1180.5 408.3C1182.8 412.0 1185.1 415.7 1187.4 419.5C1189.6 423.2 1191.8 427.0 1194.0 430.9C1196.1 434.7 1198.2 438.6 1200.2 442.5C1202.2 446.4 1204.1 450.4 1206.0 454.3C1207.9 458.3 1209.7 462.4 1211.5 466.4C1213.3 470.5 1215.0 474.6 1216.6 478.7C1218.2 482.8 1219.8 487.0 1221.3 491.2C1222.8 495.3 1224.2 499.6 1225.6 503.8C1226.9 508.0 1228.2 512.3 1229.4 516.6C1230.6 520.9 1231.7 525.2 1232.8 529.6C1233.8 533.9 1234.8 538.3 1235.7 542.6C1236.6 547.0 1237.5 551.4 1238.2 555.8C1239.0 560.2 1239.6 564.7 1240.2 569.1C1240.8 573.6 1241.3 578.0 1241.7 582.5C1242.2 586.9 1242.5 591.4 1242.8 595.9C1243.0 600.4 1243.2 604.9 1243.3 609.4C1243.4 613.8 1243.4 618.3 1243.4 622.8C1243.3 627.3 1243.1 631.8 1242.9 636.3C1242.7 640.8 1242.4 645.3 1242.0 649.7C1241.6 654.2 1241.1 658.7 1240.5 663.1C1240.0 667.6 1239.3 672.0 1238.6 676.5C1237.9 680.9 1237.1 685.3 1236.2 689.7C1235.3 694.1 1234.3 698.5 1233.3 702.8C1232.3 707.2 1231.1 711.5 1229.9 715.9C1228.7 720.2 1227.5 724.5 1226.1 728.7C1224.8 733.0 1223.3 737.2 1221.8 741.4C1220.3 745.6 1218.8 749.8 1217.1 754.0C1215.5 758.1 1213.8 762.2 1212.0 766.3C1210.2 770.4 1208.3 774.4 1206.4 778.4C1204.5 782.5 1202.5 786.4 1200.4 790.4C1198.4 794.3 1196.3 798.2 1194.1 802.0C1191.9 805.9 1189.7 809.7 1187.4 813.5C1185.1 817.2 1182.7 821.0 1180.3 824.6C1177.9 828.3 1175.4 832.0 1172.9 835.6C1170.3 839.2 1167.7 842.7 1165.1 846.2C1162.5 849.7 1159.8 853.2 1157.1 856.6C1154.3 860.0 1151.6 863.3 1148.7 866.6C1145.9 869.9 1143.0 873.2 1140.1 876.4C1137.2 879.6 1134.3 882.8 1131.3 885.9C1128.3 889.0 1125.3 892.1 1122.2 895.1C1119.1 898.1 1116.0 901.1 1112.9 904.0C1109.7 906.9 1106.5 909.7 1103.3 912.6C1100.1 915.4 1096.9 918.1 1093.6 920.8C1090.3 923.6 1087.0 926.2 1083.7 928.8C1080.4 931.4 1077.0 934.0 1073.7 936.5C1070.3 939.0 1066.9 941.5 1063.4 943.9C1060.0 946.3 1056.6 948.7 1053.1 951.0C1049.6 953.3 1046.1 955.5 1042.6 957.8C1039.1 960.0 1035.6 962.1 1032.0 964.3C1028.5 966.4 1024.9 968.5 1021.3 970.5C1017.8 972.5 1014.2 974.5 1010.6 976.4C1007.0 978.3 1003.3 980.2 999.7 982.1C996.1 983.9 992.4 985.7 988.8 987.4C985.1 989.2 981.4 990.9 977.8 992.5C974.1 994.2 970.4 995.8 966.7 997.4C963.0 998.9 959.3 1000.5 955.6 1001.9C951.9 1003.4 948.1 1004.9 944.4 1006.3C940.7 1007.7 937.0 1009.0 933.2 1010.3C929.5 1011.6 925.7 1012.9 922.0 1014.2C918.2 1015.4 914.5 1016.6 910.7 1017.7C907.0 1018.9 903.2 1020.0 899.4 1021.1C895.7 1022.1 891.9 1023.2 888.1 1024.2C884.4 1025.2 880.6 1026.1 876.8 1027.0C873.0 1027.9 869.3 1028.8 865.5 1029.7C861.7 1030.5 857.9 1031.3 854.1 1032.1C850.3 1032.9 846.6 1033.6 842.8 1034.3C839.0 1035.0 835.2 1035.6 831.4 1036.3C827.6 1036.9 823.8 1037.5 820.0 1038.0C816.2 1038.6 812.4 1039.1 808.6 1039.6C804.9 1040.0 801.1 1040.5 797.3 1040.9C793.5 1041.3 789.7 1041.7 785.9 1042.0C782.1 1042.4 778.3 1042.7 774.5 1042.9C770.7 1043.2 766.9 1043.4 763.1 1043.6C759.3 1043.8 755.5 1044.0 751.7 1044.1C747.9 1044.3 744.1 1044.4 740.3 1044.4C736.5 1044.5 732.7 1044.5 728.9 1044.5C725.1 1044.5 721.3 1044.5 717.5 1044.4C713.7 1044.3 709.9 1044.2 706.1 1044.1C702.3 1043.9 698.5 1043.7 694.7 1043.5C691.0 1043.3 687.2 1043.0 683.4 1042.8C679.6 1042.5 675.8 1042.2 672.0 1041.8C668.2 1041.4 664.4 1041.0 660.6 1040.6C656.8 1040.2 653.0 1039.7 649.2 1039.2C645.5 1038.7 641.7 1038.2 637.9 1037.6C634.1 1037.0 630.3 1036.4 626.5 1035.8C622.8 1035.1 619.0 1034.5 615.2 1033.7C611.4 1033.0 607.7 1032.3 603.9 1031.5C600.1 1030.7 596.3 1029.8 592.6 1028.9C588.8 1028.1 585.1 1027.2 581.3 1026.2C577.5 1025.3 573.8 1024.3 570.0 1023.2C566.3 1022.2 562.6 1021.1 558.8 1020.0C555.1 1018.9 551.3 1017.8 547.6 1016.6C543.9 1015.4 540.2 1014.1 536.5 1012.9C532.7 1011.6 529.0 1010.3 525.3 1008.9C521.6 1007.6 517.9 1006.2 514.2 1004.7C510.6 1003.3 506.9 1001.8 503.2 1000.3C499.6 998.7 495.9 997.2 492.3 995.6C488.6 993.9 485.0 992.3 481.3 990.6C477.7 988.9 474.1 987.1 470.5 985.3C466.9 983.6 463.3 981.7 459.7 979.8C456.2 978.0 452.6 976.0 449.1 974.1C445.5 972.1 442.0 970.1 438.5 968.0C435.0 965.9 431.5 963.8 428.0 961.7C424.5 959.5 421.1 957.3 417.6 955.1C414.2 952.8 410.8 950.5 407.4 948.2C404.0 945.8 400.6 943.4 397.3 941.0C393.9 938.6 390.6 936.1 387.3 933.5C384.0 931.0 380.7 928.4 377.5 925.8C374.2 923.2 371.0 920.5 367.8 917.8C364.6 915.0 361.5 912.3 358.3 909.4C355.2 906.6 352.1 903.8 349.0 900.8C346.0 897.9 343.0 895.0 340.0 892.0C337.0 888.9 334.0 885.9 331.1 882.8C328.2 879.7 325.3 876.5 322.4 873.3C319.6 870.1 316.8 866.9 314.0 863.6C311.3 860.3 308.5 857.0 305.9 853.6C303.2 850.2 300.6 846.8 298.0 843.3C295.4 839.9 292.9 836.4 290.4 832.8C287.9 829.3 285.5 825.7 283.1 822.0C280.7 818.4 278.4 814.7 276.1 811.0C273.8 807.3 271.6 803.5 269.4 799.7C267.3 795.9 265.2 792.0 263.1 788.2C261.1 784.3 259.1 780.4 257.2 776.4C255.2 772.5 253.4 768.5 251.6 764.5C249.8 760.4 248.0 756.4 246.4 752.3C244.7 748.2 243.1 744.1 241.5 740.0C240.0 735.8 238.5 731.6 237.1 727.4C235.7 723.2 234.4 719.0 233.1 714.7C231.9 710.5 230.7 706.2 229.6 701.9C228.5 697.6 227.4 693.3 226.5 688.9C225.5 684.6 224.6 680.2 223.8 675.9C223.0 671.5 222.3 667.1 221.6 662.7C220.9 658.3 220.4 653.9 219.9 649.4C219.4 645.0 218.9 640.6 218.6 636.1C218.2 631.7 218.0 627.2 217.8 622.7C217.6 618.3 217.5 613.8 217.4 609.4Z" fill="url(#gl)"/>
<rect x="200" y="150" width="150" height="920" fill="url(#ol)" clip-path="url(#cl)"/>
<rect x="1610" y="150" width="190" height="920" fill="url(#or)" clip-path="url(#cr)"/>
<g clip-path="url(#cl)"><path d="M757.1 609.1C757.2 604.6 757.4 600.2 757.7 595.7C758.0 591.2 758.3 586.7 758.7 582.3C759.2 577.8 759.7 573.4 760.3 568.9C760.8 564.5 761.5 560.1 762.3 555.7C763.0 551.3 763.8 546.9 764.7 542.5C765.6 538.1 766.6 533.8 767.7 529.4C768.7 525.1 769.9 520.8 771.1 516.5C772.3 512.2 773.6 507.9 774.9 503.7C776.3 499.5 777.7 495.3 779.2 491.1C780.7 486.9 782.2 482.8 783.9 478.6C785.5 474.5 787.2 470.4 789.0 466.4C790.7 462.3 792.6 458.3 794.5 454.3C796.3 450.3 798.3 446.4 800.3 442.5C802.3 438.6 804.4 434.7 806.5 430.9C808.7 427.1 810.8 423.3 813.1 419.5C815.3 415.8 817.6 412.0 820.0 408.4C822.3 404.7 824.7 401.1 827.2 397.5C829.6 393.9 832.1 390.4 834.7 386.9C837.2 383.4 839.8 379.9 842.5 376.5C845.1 373.1 847.8 369.7 850.5 366.4C853.2 363.1 856.0 359.8 858.8 356.6C861.6 353.4 864.4 350.2 867.3 347.0C870.2 343.9 873.1 340.8 876.1 337.8C879.0 334.7 882.0 331.7 885.0 328.8C888.0 325.8 891.1 322.9 894.1 320.1C897.2 317.2 900.3 314.4 903.5 311.6C906.6 308.8 909.8 306.1 913.0 303.4C916.1 300.8 919.4 298.1 922.6 295.5C925.8 292.9 929.1 290.4 932.4 287.9C935.7 285.4 939.0 283.0 942.3 280.6C945.6 278.1 949.0 275.8 952.3 273.5C955.7 271.1 959.1 268.9 962.5 266.6C965.9 264.4 969.3 262.2 972.8 260.1C976.2 257.9 979.6 255.8 983.1 253.8C986.6 251.7 990.1 249.7 993.6 247.7C997.1 245.7 1000.6 243.8 1004.1 241.9C1007.6 240.0 1011.1 238.2 1014.7 236.4C1018.2 234.6 1021.8 232.8 1025.4 231.1C1028.9 229.4 1032.5 227.7 1036.1 226.0C1039.7 224.4 1043.3 222.8 1046.9 221.2C1050.5 219.6 1054.1 218.1 1057.8 216.6C1061.4 215.1 1065.0 213.7 1068.7 212.3C1072.3 210.9 1076.0 209.5 1079.6 208.2C1083.3 206.9 1087.0 205.6 1090.6 204.3C1094.3 203.0 1098.0 201.8 1101.7 200.7C1105.4 199.5 1109.1 198.3 1112.8 197.2C1116.5 196.1 1120.2 195.1 1123.9 194.0C1127.6 193.0 1131.3 192.0 1135.0 191.0C1138.8 190.1 1142.5 189.2 1146.2 188.3C1149.9 187.4 1153.7 186.6 1157.4 185.8C1161.2 184.9 1164.9 184.2 1168.7 183.4C1172.4 182.7 1176.2 182.0 1179.9 181.3C1183.7 180.7 1187.5 180.1 1191.2 179.5C1195.0 178.9 1198.8 178.3 1202.6 177.8C1206.3 177.3 1210.1 176.8 1213.9 176.4C1217.7 175.9 1221.5 175.5 1225.3 175.1C1229.0 174.8 1232.8 174.4 1236.6 174.1C1240.4 173.8 1244.2 173.6 1248.0 173.4C1251.8 173.1 1255.6 172.9 1259.4 172.8C1263.3 172.6 1267.1 172.5 1270.9 172.5C1274.7 172.4 1278.5 172.3 1282.3 172.3C1286.1 172.3 1289.9 172.4 1293.8 172.4C1297.6 172.5 1301.4 172.6 1305.2 172.8C1309.0 172.9 1312.9 173.1 1316.7 173.3C1320.5 173.5 1324.3 173.8 1328.1 174.1C1332.0 174.4 1335.8 174.7 1339.6 175.1C1343.4 175.5 1347.3 175.9 1351.1 176.4C1354.9 176.8 1358.7 177.3 1362.5 177.9C1366.4 178.4 1370.2 179.0 1374.0 179.6C1377.8 180.2 1381.6 180.8 1385.4 181.5C1389.3 182.2 1393.1 183.0 1396.9 183.7C1400.7 184.5 1404.5 185.3 1408.3 186.2C1412.1 187.0 1415.9 187.9 1419.7 188.9C1423.5 189.8 1427.3 190.8 1431.1 191.8C1434.9 192.8 1438.6 193.9 1442.4 195.0C1446.2 196.1 1450.0 197.3 1453.7 198.4C1457.5 199.6 1461.2 200.9 1465.0 202.1C1468.7 203.4 1472.5 204.7 1476.2 206.1C1480.0 207.5 1483.7 208.9 1487.4 210.3C1491.1 211.8 1494.8 213.3 1498.5 214.8C1502.2 216.4 1505.9 217.9 1509.6 219.6C1513.3 221.2 1516.9 222.9 1520.6 224.6C1524.2 226.3 1527.9 228.1 1531.5 229.9C1535.1 231.7 1538.7 233.6 1542.3 235.5C1545.9 237.4 1549.5 239.3 1553.1 241.3C1556.7 243.3 1560.2 245.4 1563.7 247.5C1567.3 249.6 1570.8 251.7 1574.3 253.9C1577.8 256.1 1581.2 258.3 1584.7 260.6C1588.2 262.9 1591.6 265.2 1595.0 267.6C1598.4 270.0 1601.8 272.4 1605.2 274.8C1608.5 277.3 1611.9 279.8 1615.2 282.4C1618.5 285.0 1621.8 287.6 1625.0 290.3C1628.3 292.9 1631.5 295.6 1634.7 298.4C1637.9 301.2 1641.1 304.0 1644.2 306.8C1647.3 309.7 1650.4 312.6 1653.5 315.5C1656.5 318.5 1659.6 321.5 1662.6 324.5C1665.6 327.6 1668.5 330.7 1671.4 333.8C1674.4 337.0 1677.2 340.2 1680.1 343.4C1682.9 346.6 1685.7 349.9 1688.4 353.2C1691.2 356.6 1693.9 359.9 1696.6 363.4C1699.2 366.8 1701.8 370.2 1704.4 373.7C1706.9 377.3 1709.5 380.8 1711.9 384.4C1714.4 388.0 1716.8 391.6 1719.1 395.3C1721.5 399.0 1723.8 402.7 1726.0 406.5C1728.3 410.2 1730.5 414.0 1732.6 417.9C1734.7 421.7 1736.8 425.6 1738.8 429.5C1740.8 433.4 1742.8 437.4 1744.6 441.4C1746.5 445.3 1748.4 449.4 1750.1 453.4C1751.9 457.5 1753.5 461.6 1755.2 465.7C1756.8 469.8 1758.3 473.9 1759.8 478.1C1761.3 482.3 1762.7 486.5 1764.0 490.7C1765.4 495.0 1766.7 499.2 1767.9 503.5C1769.0 507.8 1770.2 512.1 1771.2 516.4C1772.3 520.7 1773.2 525.1 1774.1 529.4C1775.0 533.8 1775.8 538.2 1776.6 542.5C1777.3 546.9 1778.0 551.3 1778.6 555.8C1779.2 560.2 1779.7 564.6 1780.1 569.0C1780.5 573.5 1780.9 577.9 1781.2 582.4C1781.4 586.8 1781.6 591.3 1781.7 595.7C1781.9 600.2 1781.9 604.7 1781.9 609.1C1781.8 613.6 1781.7 618.0 1781.5 622.5C1781.3 626.9 1781.0 631.4 1780.6 635.8C1780.3 640.3 1779.8 644.7 1779.3 649.1C1778.8 653.6 1778.2 658.0 1777.5 662.4C1776.9 666.8 1776.1 671.2 1775.3 675.5C1774.5 679.9 1773.6 684.3 1772.6 688.6C1771.6 692.9 1770.6 697.2 1769.5 701.5C1768.3 705.8 1767.1 710.1 1765.9 714.3C1764.6 718.6 1763.3 722.8 1761.9 727.0C1760.5 731.2 1759.0 735.4 1757.4 739.5C1755.9 743.6 1754.3 747.7 1752.6 751.8C1750.9 755.9 1749.2 759.9 1747.4 764.0C1745.6 768.0 1743.7 771.9 1741.8 775.9C1739.9 779.8 1737.9 783.7 1735.8 787.6C1733.8 791.5 1731.7 795.3 1729.5 799.1C1727.3 802.9 1725.1 806.6 1722.8 810.4C1720.6 814.1 1718.2 817.7 1715.9 821.4C1713.5 825.0 1711.1 828.6 1708.6 832.1C1706.1 835.7 1703.6 839.2 1701.0 842.7C1698.4 846.1 1695.8 849.5 1693.1 852.9C1690.4 856.3 1687.7 859.6 1685.0 862.9C1682.2 866.2 1679.4 869.4 1676.6 872.6C1673.7 875.8 1670.9 878.9 1668.0 882.0C1665.0 885.1 1662.1 888.2 1659.1 891.2C1656.1 894.2 1653.1 897.2 1650.0 900.1C1647.0 903.0 1643.9 905.8 1640.8 908.7C1637.6 911.5 1634.5 914.2 1631.3 917.0C1628.1 919.7 1624.9 922.4 1621.7 925.0C1618.4 927.6 1615.2 930.2 1611.9 932.7C1608.6 935.3 1605.3 937.8 1601.9 940.2C1598.6 942.6 1595.2 945.0 1591.9 947.4C1588.5 949.7 1585.1 952.0 1581.6 954.3C1578.2 956.5 1574.8 958.7 1571.3 960.9C1567.8 963.1 1564.4 965.2 1560.9 967.2C1557.4 969.3 1553.8 971.3 1550.3 973.3C1546.8 975.3 1543.2 977.2 1539.7 979.1C1536.1 981.0 1532.5 982.8 1528.9 984.6C1525.4 986.4 1521.8 988.2 1518.1 989.9C1514.5 991.6 1510.9 993.2 1507.3 994.9C1503.6 996.5 1500.0 998.1 1496.3 999.6C1492.7 1001.1 1489.0 1002.6 1485.3 1004.1C1481.6 1005.5 1478.0 1006.9 1474.3 1008.3C1470.6 1009.7 1466.9 1011.0 1463.2 1012.3C1459.5 1013.5 1455.7 1014.8 1452.0 1016.0C1448.3 1017.2 1444.6 1018.3 1440.8 1019.5C1437.1 1020.6 1433.4 1021.6 1429.6 1022.7C1425.9 1023.7 1422.1 1024.7 1418.4 1025.7C1414.6 1026.6 1410.9 1027.6 1407.1 1028.4C1403.4 1029.3 1399.6 1030.2 1395.8 1031.0C1392.1 1031.8 1388.3 1032.5 1384.5 1033.3C1380.7 1034.0 1377.0 1034.7 1373.2 1035.3C1369.4 1036.0 1365.6 1036.6 1361.9 1037.2C1358.1 1037.8 1354.3 1038.3 1350.5 1038.8C1346.7 1039.3 1342.9 1039.8 1339.1 1040.2C1335.4 1040.6 1331.6 1041.0 1327.8 1041.4C1324.0 1041.8 1320.2 1042.1 1316.4 1042.4C1312.6 1042.7 1308.8 1042.9 1305.0 1043.1C1301.2 1043.4 1297.4 1043.5 1293.6 1043.7C1289.9 1043.8 1286.1 1043.9 1282.3 1044.0C1278.5 1044.1 1274.7 1044.1 1270.9 1044.1C1267.1 1044.2 1263.3 1044.1 1259.5 1044.1C1255.7 1044.0 1251.9 1043.9 1248.1 1043.8C1244.3 1043.6 1240.5 1043.5 1236.7 1043.3C1232.9 1043.1 1229.1 1042.8 1225.3 1042.6C1221.5 1042.3 1217.7 1042.0 1213.9 1041.7C1210.1 1041.3 1206.3 1040.9 1202.5 1040.5C1198.8 1040.1 1195.0 1039.7 1191.2 1039.2C1187.4 1038.7 1183.6 1038.2 1179.8 1037.6C1176.0 1037.1 1172.2 1036.5 1168.4 1035.9C1164.6 1035.2 1160.8 1034.6 1157.1 1033.9C1153.3 1033.2 1149.5 1032.4 1145.7 1031.7C1141.9 1030.9 1138.1 1030.1 1134.4 1029.3C1130.6 1028.4 1126.8 1027.5 1123.0 1026.6C1119.3 1025.7 1115.5 1024.7 1111.7 1023.7C1108.0 1022.7 1104.2 1021.7 1100.4 1020.6C1096.7 1019.5 1092.9 1018.4 1089.2 1017.3C1085.4 1016.1 1081.7 1014.9 1077.9 1013.7C1074.2 1012.4 1070.4 1011.2 1066.7 1009.8C1063.0 1008.5 1059.2 1007.2 1055.5 1005.8C1051.8 1004.4 1048.1 1002.9 1044.4 1001.4C1040.7 1000.0 1037.0 998.4 1033.3 996.9C1029.6 995.3 1025.9 993.7 1022.2 992.0C1018.6 990.3 1014.9 988.6 1011.2 986.9C1007.6 985.1 1003.9 983.4 1000.3 981.5C996.7 979.7 993.1 977.8 989.5 975.9C985.9 973.9 982.3 971.9 978.7 969.9C975.1 967.9 971.6 965.8 968.0 963.7C964.5 961.6 961.0 959.4 957.5 957.2C954.0 955.0 950.5 952.7 947.0 950.4C943.5 948.1 940.1 945.7 936.7 943.3C933.3 940.9 929.9 938.4 926.5 935.9C923.1 933.4 919.8 930.9 916.4 928.3C913.1 925.6 909.8 923.0 906.6 920.3C903.3 917.6 900.1 914.8 896.9 912.0C893.7 909.2 890.5 906.3 887.3 903.4C884.2 900.5 881.1 897.5 878.0 894.5C875.0 891.5 871.9 888.5 869.0 885.4C866.0 882.2 863.0 879.1 860.1 875.9C857.2 872.7 854.3 869.4 851.5 866.1C848.7 862.8 845.9 859.4 843.2 856.0C840.5 852.6 837.8 849.2 835.2 845.7C832.5 842.2 830.0 838.7 827.4 835.1C824.9 831.5 822.4 827.8 820.0 824.2C817.6 820.5 815.3 816.8 813.0 813.0C810.7 809.2 808.4 805.4 806.3 801.6C804.1 797.7 802.0 793.8 799.9 789.9C797.9 786.0 795.9 782.0 794.0 778.0C792.0 774.0 790.2 770.0 788.4 765.9C786.6 761.8 784.9 757.7 783.3 753.6C781.6 749.4 780.0 745.2 778.5 741.0C777.0 736.8 775.6 732.6 774.3 728.3C772.9 724.1 771.6 719.8 770.5 715.5C769.3 711.2 768.1 706.8 767.1 702.5C766.1 698.1 765.1 693.8 764.2 689.4C763.3 685.0 762.5 680.6 761.8 676.1C761.1 671.7 760.4 667.3 759.9 662.8C759.3 658.4 758.9 653.9 758.5 649.5C758.1 645.0 757.8 640.5 757.5 636.0C757.3 631.6 757.1 627.1 757.1 622.6C757.0 618.1 757.0 613.6 757.1 609.1Z" fill="url(#gi)"/></g>
<path d="M757.1 609.1C757.2 604.6 757.4 600.2 757.7 595.7C758.0 591.2 758.3 586.7 758.7 582.3C759.2 577.8 759.7 573.4 760.3 568.9C760.8 564.5 761.5 560.1 762.3 555.7C763.0 551.3 763.8 546.9 764.7 542.5C765.6 538.1 766.6 533.8 767.7 529.4C768.7 525.1 769.9 520.8 771.1 516.5C772.3 512.2 773.6 507.9 774.9 503.7C776.3 499.5 777.7 495.3 779.2 491.1C780.7 486.9 782.2 482.8 783.9 478.6C785.5 474.5 787.2 470.4 789.0 466.4C790.7 462.3 792.6 458.3 794.5 454.3C796.3 450.3 798.3 446.4 800.3 442.5C802.3 438.6 804.4 434.7 806.5 430.9C808.7 427.1 810.8 423.3 813.1 419.5C815.3 415.8 817.6 412.0 820.0 408.4C822.3 404.7 824.7 401.1 827.2 397.5C829.6 393.9 832.1 390.4 834.7 386.9C837.2 383.4 839.8 379.9 842.5 376.5C845.1 373.1 847.8 369.7 850.5 366.4C853.2 363.1 856.0 359.8 858.8 356.6C861.6 353.4 864.4 350.2 867.3 347.0C870.2 343.9 873.1 340.8 876.1 337.8C879.0 334.7 882.0 331.7 885.0 328.8C888.0 325.8 891.1 322.9 894.1 320.1C897.2 317.2 900.3 314.4 903.5 311.6C906.6 308.8 909.8 306.1 913.0 303.4C916.1 300.8 919.4 298.1 922.6 295.5C925.8 292.9 929.1 290.4 932.4 287.9C935.7 285.4 939.0 283.0 942.3 280.6C945.6 278.1 949.0 275.8 952.3 273.5C955.7 271.1 959.1 268.9 962.5 266.6C965.9 264.4 969.3 262.2 972.8 260.1C976.2 257.9 979.6 255.8 983.1 253.8C986.6 251.7 990.1 249.7 993.6 247.7C997.1 245.7 1000.6 243.8 1004.1 241.9C1007.6 240.0 1011.1 238.2 1014.7 236.4C1018.2 234.6 1021.8 232.8 1025.4 231.1C1028.9 229.4 1032.5 227.7 1036.1 226.0C1039.7 224.4 1043.3 222.8 1046.9 221.2C1050.5 219.6 1054.1 218.1 1057.8 216.6C1061.4 215.1 1065.0 213.7 1068.7 212.3C1072.3 210.9 1076.0 209.5 1079.6 208.2C1083.3 206.9 1087.0 205.6 1090.6 204.3C1094.3 203.0 1098.0 201.8 1101.7 200.7C1105.4 199.5 1109.1 198.3 1112.8 197.2C1116.5 196.1 1120.2 195.1 1123.9 194.0C1127.6 193.0 1131.3 192.0 1135.0 191.0C1138.8 190.1 1142.5 189.2 1146.2 188.3C1149.9 187.4 1153.7 186.6 1157.4 185.8C1161.2 184.9 1164.9 184.2 1168.7 183.4C1172.4 182.7 1176.2 182.0 1179.9 181.3C1183.7 180.7 1187.5 180.1 1191.2 179.5C1195.0 178.9 1198.8 178.3 1202.6 177.8C1206.3 177.3 1210.1 176.8 1213.9 176.4C1217.7 175.9 1221.5 175.5 1225.3 175.1C1229.0 174.8 1232.8 174.4 1236.6 174.1C1240.4 173.8 1244.2 173.6 1248.0 173.4C1251.8 173.1 1255.6 172.9 1259.4 172.8C1263.3 172.6 1267.1 172.5 1270.9 172.5C1274.7 172.4 1278.5 172.3 1282.3 172.3C1286.1 172.3 1289.9 172.4 1293.8 172.4C1297.6 172.5 1301.4 172.6 1305.2 172.8C1309.0 172.9 1312.9 173.1 1316.7 173.3C1320.5 173.5 1324.3 173.8 1328.1 174.1C1332.0 174.4 1335.8 174.7 1339.6 175.1C1343.4 175.5 1347.3 175.9 1351.1 176.4C1354.9 176.8 1358.7 177.3 1362.5 177.9C1366.4 178.4 1370.2 179.0 1374.0 179.6C1377.8 180.2 1381.6 180.8 1385.4 181.5C1389.3 182.2 1393.1 183.0 1396.9 183.7C1400.7 184.5 1404.5 185.3 1408.3 186.2C1412.1 187.0 1415.9 187.9 1419.7 188.9C1423.5 189.8 1427.3 190.8 1431.1 191.8C1434.9 192.8 1438.6 193.9 1442.4 195.0C1446.2 196.1 1450.0 197.3 1453.7 198.4C1457.5 199.6 1461.2 200.9 1465.0 202.1C1468.7 203.4 1472.5 204.7 1476.2 206.1C1480.0 207.5 1483.7 208.9 1487.4 210.3C1491.1 211.8 1494.8 213.3 1498.5 214.8C1502.2 216.4 1505.9 217.9 1509.6 219.6C1513.3 221.2 1516.9 222.9 1520.6 224.6C1524.2 226.3 1527.9 228.1 1531.5 229.9C1535.1 231.7 1538.7 233.6 1542.3 235.5C1545.9 237.4 1549.5 239.3 1553.1 241.3C1556.7 243.3 1560.2 245.4 1563.7 247.5C1567.3 249.6 1570.8 251.7 1574.3 253.9C1577.8 256.1 1581.2 258.3 1584.7 260.6C1588.2 262.9 1591.6 265.2 1595.0 267.6C1598.4 270.0 1601.8 272.4 1605.2 274.8C1608.5 277.3 1611.9 279.8 1615.2 282.4C1618.5 285.0 1621.8 287.6 1625.0 290.3C1628.3 292.9 1631.5 295.6 1634.7 298.4C1637.9 301.2 1641.1 304.0 1644.2 306.8C1647.3 309.7 1650.4 312.6 1653.5 315.5C1656.5 318.5 1659.6 321.5 1662.6 324.5C1665.6 327.6 1668.5 330.7 1671.4 333.8C1674.4 337.0 1677.2 340.2 1680.1 343.4C1682.9 346.6 1685.7 349.9 1688.4 353.2C1691.2 356.6 1693.9 359.9 1696.6 363.4C1699.2 366.8 1701.8 370.2 1704.4 373.7C1706.9 377.3 1709.5 380.8 1711.9 384.4C1714.4 388.0 1716.8 391.6 1719.1 395.3C1721.5 399.0 1723.8 402.7 1726.0 406.5C1728.3 410.2 1730.5 414.0 1732.6 417.9C1734.7 421.7 1736.8 425.6 1738.8 429.5C1740.8 433.4 1742.8 437.4 1744.6 441.4C1746.5 445.3 1748.4 449.4 1750.1 453.4C1751.9 457.5 1753.5 461.6 1755.2 465.7C1756.8 469.8 1758.3 473.9 1759.8 478.1C1761.3 482.3 1762.7 486.5 1764.0 490.7C1765.4 495.0 1766.7 499.2 1767.9 503.5C1769.0 507.8 1770.2 512.1 1771.2 516.4C1772.3 520.7 1773.2 525.1 1774.1 529.4C1775.0 533.8 1775.8 538.2 1776.6 542.5C1777.3 546.9 1778.0 551.3 1778.6 555.8C1779.2 560.2 1779.7 564.6 1780.1 569.0C1780.5 573.5 1780.9 577.9 1781.2 582.4C1781.4 586.8 1781.6 591.3 1781.7 595.7C1781.9 600.2 1781.9 604.7 1781.9 609.1C1781.8 613.6 1781.7 618.0 1781.5 622.5C1781.3 626.9 1781.0 631.4 1780.6 635.8C1780.3 640.3 1779.8 644.7 1779.3 649.1C1778.8 653.6 1778.2 658.0 1777.5 662.4C1776.9 666.8 1776.1 671.2 1775.3 675.5C1774.5 679.9 1773.6 684.3 1772.6 688.6C1771.6 692.9 1770.6 697.2 1769.5 701.5C1768.3 705.8 1767.1 710.1 1765.9 714.3C1764.6 718.6 1763.3 722.8 1761.9 727.0C1760.5 731.2 1759.0 735.4 1757.4 739.5C1755.9 743.6 1754.3 747.7 1752.6 751.8C1750.9 755.9 1749.2 759.9 1747.4 764.0C1745.6 768.0 1743.7 771.9 1741.8 775.9C1739.9 779.8 1737.9 783.7 1735.8 787.6C1733.8 791.5 1731.7 795.3 1729.5 799.1C1727.3 802.9 1725.1 806.6 1722.8 810.4C1720.6 814.1 1718.2 817.7 1715.9 821.4C1713.5 825.0 1711.1 828.6 1708.6 832.1C1706.1 835.7 1703.6 839.2 1701.0 842.7C1698.4 846.1 1695.8 849.5 1693.1 852.9C1690.4 856.3 1687.7 859.6 1685.0 862.9C1682.2 866.2 1679.4 869.4 1676.6 872.6C1673.7 875.8 1670.9 878.9 1668.0 882.0C1665.0 885.1 1662.1 888.2 1659.1 891.2C1656.1 894.2 1653.1 897.2 1650.0 900.1C1647.0 903.0 1643.9 905.8 1640.8 908.7C1637.6 911.5 1634.5 914.2 1631.3 917.0C1628.1 919.7 1624.9 922.4 1621.7 925.0C1618.4 927.6 1615.2 930.2 1611.9 932.7C1608.6 935.3 1605.3 937.8 1601.9 940.2C1598.6 942.6 1595.2 945.0 1591.9 947.4C1588.5 949.7 1585.1 952.0 1581.6 954.3C1578.2 956.5 1574.8 958.7 1571.3 960.9C1567.8 963.1 1564.4 965.2 1560.9 967.2C1557.4 969.3 1553.8 971.3 1550.3 973.3C1546.8 975.3 1543.2 977.2 1539.7 979.1C1536.1 981.0 1532.5 982.8 1528.9 984.6C1525.4 986.4 1521.8 988.2 1518.1 989.9C1514.5 991.6 1510.9 993.2 1507.3 994.9C1503.6 996.5 1500.0 998.1 1496.3 999.6C1492.7 1001.1 1489.0 1002.6 1485.3 1004.1C1481.6 1005.5 1478.0 1006.9 1474.3 1008.3C1470.6 1009.7 1466.9 1011.0 1463.2 1012.3C1459.5 1013.5 1455.7 1014.8 1452.0 1016.0C1448.3 1017.2 1444.6 1018.3 1440.8 1019.5C1437.1 1020.6 1433.4 1021.6 1429.6 1022.7C1425.9 1023.7 1422.1 1024.7 1418.4 1025.7C1414.6 1026.6 1410.9 1027.6 1407.1 1028.4C1403.4 1029.3 1399.6 1030.2 1395.8 1031.0C1392.1 1031.8 1388.3 1032.5 1384.5 1033.3C1380.7 1034.0 1377.0 1034.7 1373.2 1035.3C1369.4 1036.0 1365.6 1036.6 1361.9 1037.2C1358.1 1037.8 1354.3 1038.3 1350.5 1038.8C1346.7 1039.3 1342.9 1039.8 1339.1 1040.2C1335.4 1040.6 1331.6 1041.0 1327.8 1041.4C1324.0 1041.8 1320.2 1042.1 1316.4 1042.4C1312.6 1042.7 1308.8 1042.9 1305.0 1043.1C1301.2 1043.4 1297.4 1043.5 1293.6 1043.7C1289.9 1043.8 1286.1 1043.9 1282.3 1044.0C1278.5 1044.1 1274.7 1044.1 1270.9 1044.1C1267.1 1044.2 1263.3 1044.1 1259.5 1044.1C1255.7 1044.0 1251.9 1043.9 1248.1 1043.8C1244.3 1043.6 1240.5 1043.5 1236.7 1043.3C1232.9 1043.1 1229.1 1042.8 1225.3 1042.6C1221.5 1042.3 1217.7 1042.0 1213.9 1041.7C1210.1 1041.3 1206.3 1040.9 1202.5 1040.5C1198.8 1040.1 1195.0 1039.7 1191.2 1039.2C1187.4 1038.7 1183.6 1038.2 1179.8 1037.6C1176.0 1037.1 1172.2 1036.5 1168.4 1035.9C1164.6 1035.2 1160.8 1034.6 1157.1 1033.9C1153.3 1033.2 1149.5 1032.4 1145.7 1031.7C1141.9 1030.9 1138.1 1030.1 1134.4 1029.3C1130.6 1028.4 1126.8 1027.5 1123.0 1026.6C1119.3 1025.7 1115.5 1024.7 1111.7 1023.7C1108.0 1022.7 1104.2 1021.7 1100.4 1020.6C1096.7 1019.5 1092.9 1018.4 1089.2 1017.3C1085.4 1016.1 1081.7 1014.9 1077.9 1013.7C1074.2 1012.4 1070.4 1011.2 1066.7 1009.8C1063.0 1008.5 1059.2 1007.2 1055.5 1005.8C1051.8 1004.4 1048.1 1002.9 1044.4 1001.4C1040.7 1000.0 1037.0 998.4 1033.3 996.9C1029.6 995.3 1025.9 993.7 1022.2 992.0C1018.6 990.3 1014.9 988.6 1011.2 986.9C1007.6 985.1 1003.9 983.4 1000.3 981.5C996.7 979.7 993.1 977.8 989.5 975.9C985.9 973.9 982.3 971.9 978.7 969.9C975.1 967.9 971.6 965.8 968.0 963.7C964.5 961.6 961.0 959.4 957.5 957.2C954.0 955.0 950.5 952.7 947.0 950.4C943.5 948.1 940.1 945.7 936.7 943.3C933.3 940.9 929.9 938.4 926.5 935.9C923.1 933.4 919.8 930.9 916.4 928.3C913.1 925.6 909.8 923.0 906.6 920.3C903.3 917.6 900.1 914.8 896.9 912.0C893.7 909.2 890.5 906.3 887.3 903.4C884.2 900.5 881.1 897.5 878.0 894.5C875.0 891.5 871.9 888.5 869.0 885.4C866.0 882.2 863.0 879.1 860.1 875.9C857.2 872.7 854.3 869.4 851.5 866.1C848.7 862.8 845.9 859.4 843.2 856.0C840.5 852.6 837.8 849.2 835.2 845.7C832.5 842.2 830.0 838.7 827.4 835.1C824.9 831.5 822.4 827.8 820.0 824.2C817.6 820.5 815.3 816.8 813.0 813.0C810.7 809.2 808.4 805.4 806.3 801.6C804.1 797.7 802.0 793.8 799.9 789.9C797.9 786.0 795.9 782.0 794.0 778.0C792.0 774.0 790.2 770.0 788.4 765.9C786.6 761.8 784.9 757.7 783.3 753.6C781.6 749.4 780.0 745.2 778.5 741.0C777.0 736.8 775.6 732.6 774.3 728.3C772.9 724.1 771.6 719.8 770.5 715.5C769.3 711.2 768.1 706.8 767.1 702.5C766.1 698.1 765.1 693.8 764.2 689.4C763.3 685.0 762.5 680.6 761.8 676.1C761.1 671.7 760.4 667.3 759.9 662.8C759.3 658.4 758.9 653.9 758.5 649.5C758.1 645.0 757.8 640.5 757.5 636.0C757.3 631.6 757.1 627.1 757.1 622.6C757.0 618.1 757.0 613.6 757.1 609.1Z" fill="none" stroke="#858886" stroke-width="5.5"/>
<path d="M217.4 609.4C217.4 604.9 217.5 600.4 217.6 596.0C217.7 591.5 217.9 587.0 218.2 582.6C218.5 578.1 218.9 573.7 219.3 569.3C219.8 564.8 220.3 560.4 220.9 556.0C221.5 551.5 222.2 547.1 222.9 542.7C223.7 538.4 224.5 534.0 225.4 529.6C226.3 525.3 227.3 520.9 228.4 516.6C229.4 512.3 230.6 508.0 231.8 503.7C233.0 499.4 234.3 495.2 235.6 490.9C237.0 486.7 238.4 482.5 239.9 478.3C241.4 474.2 242.9 470.0 244.6 465.9C246.2 461.8 247.9 457.7 249.7 453.6C251.4 449.6 253.2 445.6 255.1 441.6C257.0 437.6 259.0 433.7 261.0 429.7C263.0 425.8 265.1 422.0 267.2 418.1C269.4 414.3 271.6 410.5 273.8 406.7C276.1 403.0 278.4 399.3 280.7 395.6C283.1 391.9 285.5 388.3 288.0 384.7C290.4 381.1 292.9 377.5 295.5 374.0C298.1 370.5 300.7 367.1 303.3 363.7C306.0 360.2 308.7 356.9 311.5 353.5C314.2 350.2 317.0 346.9 319.8 343.7C322.7 340.5 325.6 337.3 328.5 334.1C331.4 331.0 334.3 327.9 337.3 324.9C340.3 321.8 343.4 318.8 346.4 315.9C349.5 312.9 352.6 310.0 355.7 307.1C358.8 304.3 362.0 301.5 365.2 298.7C368.4 295.9 371.6 293.2 374.9 290.6C378.1 287.9 381.4 285.3 384.7 282.7C388.0 280.1 391.3 277.6 394.7 275.1C398.1 272.7 401.4 270.2 404.8 267.9C408.2 265.5 411.7 263.1 415.1 260.9C418.6 258.6 422.0 256.3 425.5 254.1C429.0 252.0 432.5 249.8 436.1 247.7C439.6 245.6 443.1 243.6 446.7 241.6C450.3 239.6 453.8 237.6 457.4 235.7C461.0 233.8 464.6 231.9 468.2 230.1C471.9 228.3 475.5 226.5 479.2 224.8C482.8 223.0 486.5 221.3 490.1 219.7C493.8 218.1 497.5 216.5 501.2 214.9C504.9 213.4 508.6 211.9 512.3 210.4C516.0 208.9 519.7 207.5 523.5 206.1C527.2 204.8 530.9 203.4 534.7 202.1C538.4 200.9 542.2 199.6 546.0 198.4C549.7 197.2 553.5 196.0 557.3 194.9C561.0 193.8 564.8 192.7 568.6 191.7C572.4 190.7 576.2 189.7 580.0 188.7C583.8 187.8 587.6 186.9 591.4 186.0C595.2 185.1 599.0 184.3 602.8 183.5C606.6 182.7 610.4 182.0 614.2 181.3C618.0 180.6 621.8 179.9 625.7 179.3C629.5 178.7 633.3 178.1 637.1 177.5C641.0 177.0 644.8 176.5 648.6 176.0C652.4 175.6 656.3 175.1 660.1 174.7C663.9 174.4 667.7 174.0 671.6 173.7C675.4 173.4 679.2 173.1 683.0 172.9C686.9 172.6 690.7 172.5 694.5 172.3C698.3 172.1 702.2 172.0 706.0 171.9C709.8 171.9 713.6 171.8 717.5 171.8C721.3 171.8 725.1 171.8 728.9 171.9C732.7 172.0 736.6 172.1 740.4 172.2C744.2 172.4 748.0 172.6 751.8 172.8C755.6 173.0 759.4 173.2 763.2 173.5C767.0 173.8 770.8 174.2 774.6 174.5C778.4 174.9 782.2 175.3 786.0 175.7C789.8 176.2 793.6 176.7 797.4 177.2C801.2 177.7 804.9 178.2 808.7 178.8C812.5 179.4 816.3 180.0 820.0 180.7C823.8 181.4 827.6 182.1 831.3 182.8C835.1 183.5 838.8 184.3 842.6 185.1C846.3 185.9 850.1 186.8 853.8 187.6C857.6 188.5 861.3 189.4 865.0 190.4C868.8 191.4 872.5 192.3 876.2 193.4C879.9 194.4 883.7 195.5 887.4 196.6C891.1 197.7 894.8 198.8 898.5 200.0C902.2 201.2 905.9 202.4 909.5 203.7C913.2 204.9 916.9 206.2 920.6 207.6C924.2 208.9 927.9 210.3 931.5 211.7C935.2 213.1 938.8 214.6 942.5 216.0C946.1 217.5 949.7 219.1 953.3 220.6C957.0 222.2 960.6 223.8 964.2 225.5C967.8 227.1 971.3 228.8 974.9 230.5C978.5 232.3 982.1 234.0 985.6 235.9C989.2 237.7 992.7 239.5 996.2 241.4C999.8 243.3 1003.3 245.3 1006.8 247.2C1010.3 249.2 1013.8 251.2 1017.2 253.3C1020.7 255.4 1024.2 257.5 1027.6 259.6C1031.1 261.8 1034.5 264.0 1037.9 266.2C1041.3 268.5 1044.7 270.7 1048.1 273.1C1051.4 275.4 1054.8 277.8 1058.1 280.2C1061.4 282.6 1064.7 285.1 1068.0 287.6C1071.3 290.1 1074.6 292.6 1077.8 295.2C1081.1 297.8 1084.3 300.4 1087.5 303.1C1090.7 305.8 1093.8 308.5 1097.0 311.3C1100.1 314.1 1103.2 316.9 1106.3 319.8C1109.4 322.7 1112.4 325.6 1115.4 328.5C1118.5 331.5 1121.4 334.5 1124.4 337.6C1127.4 340.6 1130.3 343.7 1133.1 346.9C1136.0 350.0 1138.9 353.2 1141.7 356.4C1144.5 359.7 1147.2 362.9 1150.0 366.3C1152.7 369.6 1155.4 373.0 1158.0 376.4C1160.7 379.8 1163.3 383.3 1165.8 386.8C1168.3 390.3 1170.8 393.8 1173.3 397.4C1175.7 401.0 1178.2 404.6 1180.5 408.3C1182.8 412.0 1185.1 415.7 1187.4 419.5C1189.6 423.2 1191.8 427.0 1194.0 430.9C1196.1 434.7 1198.2 438.6 1200.2 442.5C1202.2 446.4 1204.1 450.4 1206.0 454.3C1207.9 458.3 1209.7 462.4 1211.5 466.4C1213.3 470.5 1215.0 474.6 1216.6 478.7C1218.2 482.8 1219.8 487.0 1221.3 491.2C1222.8 495.3 1224.2 499.6 1225.6 503.8C1226.9 508.0 1228.2 512.3 1229.4 516.6C1230.6 520.9 1231.7 525.2 1232.8 529.6C1233.8 533.9 1234.8 538.3 1235.7 542.6C1236.6 547.0 1237.5 551.4 1238.2 555.8C1239.0 560.2 1239.6 564.7 1240.2 569.1C1240.8 573.6 1241.3 578.0 1241.7 582.5C1242.2 586.9 1242.5 591.4 1242.8 595.9C1243.0 600.4 1243.2 604.9 1243.3 609.4C1243.4 613.8 1243.4 618.3 1243.4 622.8C1243.3 627.3 1243.1 631.8 1242.9 636.3C1242.7 640.8 1242.4 645.3 1242.0 649.7C1241.6 654.2 1241.1 658.7 1240.5 663.1C1240.0 667.6 1239.3 672.0 1238.6 676.5C1237.9 680.9 1237.1 685.3 1236.2 689.7C1235.3 694.1 1234.3 698.5 1233.3 702.8C1232.3 707.2 1231.1 711.5 1229.9 715.9C1228.7 720.2 1227.5 724.5 1226.1 728.7C1224.8 733.0 1223.3 737.2 1221.8 741.4C1220.3 745.6 1218.8 749.8 1217.1 754.0C1215.5 758.1 1213.8 762.2 1212.0 766.3C1210.2 770.4 1208.3 774.4 1206.4 778.4C1204.5 782.5 1202.5 786.4 1200.4 790.4C1198.4 794.3 1196.3 798.2 1194.1 802.0C1191.9 805.9 1189.7 809.7 1187.4 813.5C1185.1 817.2 1182.7 821.0 1180.3 824.6C1177.9 828.3 1175.4 832.0 1172.9 835.6C1170.3 839.2 1167.7 842.7 1165.1 846.2C1162.5 849.7 1159.8 853.2 1157.1 856.6C1154.3 860.0 1151.6 863.3 1148.7 866.6C1145.9 869.9 1143.0 873.2 1140.1 876.4C1137.2 879.6 1134.3 882.8 1131.3 885.9C1128.3 889.0 1125.3 892.1 1122.2 895.1C1119.1 898.1 1116.0 901.1 1112.9 904.0C1109.7 906.9 1106.5 909.7 1103.3 912.6C1100.1 915.4 1096.9 918.1 1093.6 920.8C1090.3 923.6 1087.0 926.2 1083.7 928.8C1080.4 931.4 1077.0 934.0 1073.7 936.5C1070.3 939.0 1066.9 941.5 1063.4 943.9C1060.0 946.3 1056.6 948.7 1053.1 951.0C1049.6 953.3 1046.1 955.5 1042.6 957.8C1039.1 960.0 1035.6 962.1 1032.0 964.3C1028.5 966.4 1024.9 968.5 1021.3 970.5C1017.8 972.5 1014.2 974.5 1010.6 976.4C1007.0 978.3 1003.3 980.2 999.7 982.1C996.1 983.9 992.4 985.7 988.8 987.4C985.1 989.2 981.4 990.9 977.8 992.5C974.1 994.2 970.4 995.8 966.7 997.4C963.0 998.9 959.3 1000.5 955.6 1001.9C951.9 1003.4 948.1 1004.9 944.4 1006.3C940.7 1007.7 937.0 1009.0 933.2 1010.3C929.5 1011.6 925.7 1012.9 922.0 1014.2C918.2 1015.4 914.5 1016.6 910.7 1017.7C907.0 1018.9 903.2 1020.0 899.4 1021.1C895.7 1022.1 891.9 1023.2 888.1 1024.2C884.4 1025.2 880.6 1026.1 876.8 1027.0C873.0 1027.9 869.3 1028.8 865.5 1029.7C861.7 1030.5 857.9 1031.3 854.1 1032.1C850.3 1032.9 846.6 1033.6 842.8 1034.3C839.0 1035.0 835.2 1035.6 831.4 1036.3C827.6 1036.9 823.8 1037.5 820.0 1038.0C816.2 1038.6 812.4 1039.1 808.6 1039.6C804.9 1040.0 801.1 1040.5 797.3 1040.9C793.5 1041.3 789.7 1041.7 785.9 1042.0C782.1 1042.4 778.3 1042.7 774.5 1042.9C770.7 1043.2 766.9 1043.4 763.1 1043.6C759.3 1043.8 755.5 1044.0 751.7 1044.1C747.9 1044.3 744.1 1044.4 740.3 1044.4C736.5 1044.5 732.7 1044.5 728.9 1044.5C725.1 1044.5 721.3 1044.5 717.5 1044.4C713.7 1044.3 709.9 1044.2 706.1 1044.1C702.3 1043.9 698.5 1043.7 694.7 1043.5C691.0 1043.3 687.2 1043.0 683.4 1042.8C679.6 1042.5 675.8 1042.2 672.0 1041.8C668.2 1041.4 664.4 1041.0 660.6 1040.6C656.8 1040.2 653.0 1039.7 649.2 1039.2C645.5 1038.7 641.7 1038.2 637.9 1037.6C634.1 1037.0 630.3 1036.4 626.5 1035.8C622.8 1035.1 619.0 1034.5 615.2 1033.7C611.4 1033.0 607.7 1032.3 603.9 1031.5C600.1 1030.7 596.3 1029.8 592.6 1028.9C588.8 1028.1 585.1 1027.2 581.3 1026.2C577.5 1025.3 573.8 1024.3 570.0 1023.2C566.3 1022.2 562.6 1021.1 558.8 1020.0C555.1 1018.9 551.3 1017.8 547.6 1016.6C543.9 1015.4 540.2 1014.1 536.5 1012.9C532.7 1011.6 529.0 1010.3 525.3 1008.9C521.6 1007.6 517.9 1006.2 514.2 1004.7C510.6 1003.3 506.9 1001.8 503.2 1000.3C499.6 998.7 495.9 997.2 492.3 995.6C488.6 993.9 485.0 992.3 481.3 990.6C477.7 988.9 474.1 987.1 470.5 985.3C466.9 983.6 463.3 981.7 459.7 979.8C456.2 978.0 452.6 976.0 449.1 974.1C445.5 972.1 442.0 970.1 438.5 968.0C435.0 965.9 431.5 963.8 428.0 961.7C424.5 959.5 421.1 957.3 417.6 955.1C414.2 952.8 410.8 950.5 407.4 948.2C404.0 945.8 400.6 943.4 397.3 941.0C393.9 938.6 390.6 936.1 387.3 933.5C384.0 931.0 380.7 928.4 377.5 925.8C374.2 923.2 371.0 920.5 367.8 917.8C364.6 915.0 361.5 912.3 358.3 909.4C355.2 906.6 352.1 903.8 349.0 900.8C346.0 897.9 343.0 895.0 340.0 892.0C337.0 888.9 334.0 885.9 331.1 882.8C328.2 879.7 325.3 876.5 322.4 873.3C319.6 870.1 316.8 866.9 314.0 863.6C311.3 860.3 308.5 857.0 305.9 853.6C303.2 850.2 300.6 846.8 298.0 843.3C295.4 839.9 292.9 836.4 290.4 832.8C287.9 829.3 285.5 825.7 283.1 822.0C280.7 818.4 278.4 814.7 276.1 811.0C273.8 807.3 271.6 803.5 269.4 799.7C267.3 795.9 265.2 792.0 263.1 788.2C261.1 784.3 259.1 780.4 257.2 776.4C255.2 772.5 253.4 768.5 251.6 764.5C249.8 760.4 248.0 756.4 246.4 752.3C244.7 748.2 243.1 744.1 241.5 740.0C240.0 735.8 238.5 731.6 237.1 727.4C235.7 723.2 234.4 719.0 233.1 714.7C231.9 710.5 230.7 706.2 229.6 701.9C228.5 697.6 227.4 693.3 226.5 688.9C225.5 684.6 224.6 680.2 223.8 675.9C223.0 671.5 222.3 667.1 221.6 662.7C220.9 658.3 220.4 653.9 219.9 649.4C219.4 645.0 218.9 640.6 218.6 636.1C218.2 631.7 218.0 627.2 217.8 622.7C217.6 618.3 217.5 613.8 217.4 609.4Z" fill="none" stroke="#5e93be" stroke-width="5.5"/>
<g clip-path="url(#clx)"><g clip-path="url(#crx)">
<path d="M757.1 609.1C757.2 604.6 757.4 600.2 757.7 595.7C758.0 591.2 758.3 586.7 758.7 582.3C759.2 577.8 759.7 573.4 760.3 568.9C760.8 564.5 761.5 560.1 762.3 555.7C763.0 551.3 763.8 546.9 764.7 542.5C765.6 538.1 766.6 533.8 767.7 529.4C768.7 525.1 769.9 520.8 771.1 516.5C772.3 512.2 773.6 507.9 774.9 503.7C776.3 499.5 777.7 495.3 779.2 491.1C780.7 486.9 782.2 482.8 783.9 478.6C785.5 474.5 787.2 470.4 789.0 466.4C790.7 462.3 792.6 458.3 794.5 454.3C796.3 450.3 798.3 446.4 800.3 442.5C802.3 438.6 804.4 434.7 806.5 430.9C808.7 427.1 810.8 423.3 813.1 419.5C815.3 415.8 817.6 412.0 820.0 408.4C822.3 404.7 824.7 401.1 827.2 397.5C829.6 393.9 832.1 390.4 834.7 386.9C837.2 383.4 839.8 379.9 842.5 376.5C845.1 373.1 847.8 369.7 850.5 366.4C853.2 363.1 856.0 359.8 858.8 356.6C861.6 353.4 864.4 350.2 867.3 347.0C870.2 343.9 873.1 340.8 876.1 337.8C879.0 334.7 882.0 331.7 885.0 328.8C888.0 325.8 891.1 322.9 894.1 320.1C897.2 317.2 900.3 314.4 903.5 311.6C906.6 308.8 909.8 306.1 913.0 303.4C916.1 300.8 919.4 298.1 922.6 295.5C925.8 292.9 929.1 290.4 932.4 287.9C935.7 285.4 939.0 283.0 942.3 280.6C945.6 278.1 949.0 275.8 952.3 273.5C955.7 271.1 959.1 268.9 962.5 266.6C965.9 264.4 969.3 262.2 972.8 260.1C976.2 257.9 979.6 255.8 983.1 253.8C986.6 251.7 990.1 249.7 993.6 247.7C997.1 245.7 1000.6 243.8 1004.1 241.9C1007.6 240.0 1011.1 238.2 1014.7 236.4C1018.2 234.6 1021.8 232.8 1025.4 231.1C1028.9 229.4 1032.5 227.7 1036.1 226.0C1039.7 224.4 1043.3 222.8 1046.9 221.2C1050.5 219.6 1054.1 218.1 1057.8 216.6C1061.4 215.1 1065.0 213.7 1068.7 212.3C1072.3 210.9 1076.0 209.5 1079.6 208.2C1083.3 206.9 1087.0 205.6 1090.6 204.3C1094.3 203.0 1098.0 201.8 1101.7 200.7C1105.4 199.5 1109.1 198.3 1112.8 197.2C1116.5 196.1 1120.2 195.1 1123.9 194.0C1127.6 193.0 1131.3 192.0 1135.0 191.0C1138.8 190.1 1142.5 189.2 1146.2 188.3C1149.9 187.4 1153.7 186.6 1157.4 185.8C1161.2 184.9 1164.9 184.2 1168.7 183.4C1172.4 182.7 1176.2 182.0 1179.9 181.3C1183.7 180.7 1187.5 180.1 1191.2 179.5C1195.0 178.9 1198.8 178.3 1202.6 177.8C1206.3 177.3 1210.1 176.8 1213.9 176.4C1217.7 175.9 1221.5 175.5 1225.3 175.1C1229.0 174.8 1232.8 174.4 1236.6 174.1C1240.4 173.8 1244.2 173.6 1248.0 173.4C1251.8 173.1 1255.6 172.9 1259.4 172.8C1263.3 172.6 1267.1 172.5 1270.9 172.5C1274.7 172.4 1278.5 172.3 1282.3 172.3C1286.1 172.3 1289.9 172.4 1293.8 172.4C1297.6 172.5 1301.4 172.6 1305.2 172.8C1309.0 172.9 1312.9 173.1 1316.7 173.3C1320.5 173.5 1324.3 173.8 1328.1 174.1C1332.0 174.4 1335.8 174.7 1339.6 175.1C1343.4 175.5 1347.3 175.9 1351.1 176.4C1354.9 176.8 1358.7 177.3 1362.5 177.9C1366.4 178.4 1370.2 179.0 1374.0 179.6C1377.8 180.2 1381.6 180.8 1385.4 181.5C1389.3 182.2 1393.1 183.0 1396.9 183.7C1400.7 184.5 1404.5 185.3 1408.3 186.2C1412.1 187.0 1415.9 187.9 1419.7 188.9C1423.5 189.8 1427.3 190.8 1431.1 191.8C1434.9 192.8 1438.6 193.9 1442.4 195.0C1446.2 196.1 1450.0 197.3 1453.7 198.4C1457.5 199.6 1461.2 200.9 1465.0 202.1C1468.7 203.4 1472.5 204.7 1476.2 206.1C1480.0 207.5 1483.7 208.9 1487.4 210.3C1491.1 211.8 1494.8 213.3 1498.5 214.8C1502.2 216.4 1505.9 217.9 1509.6 219.6C1513.3 221.2 1516.9 222.9 1520.6 224.6C1524.2 226.3 1527.9 228.1 1531.5 229.9C1535.1 231.7 1538.7 233.6 1542.3 235.5C1545.9 237.4 1549.5 239.3 1553.1 241.3C1556.7 243.3 1560.2 245.4 1563.7 247.5C1567.3 249.6 1570.8 251.7 1574.3 253.9C1577.8 256.1 1581.2 258.3 1584.7 260.6C1588.2 262.9 1591.6 265.2 1595.0 267.6C1598.4 270.0 1601.8 272.4 1605.2 274.8C1608.5 277.3 1611.9 279.8 1615.2 282.4C1618.5 285.0 1621.8 287.6 1625.0 290.3C1628.3 292.9 1631.5 295.6 1634.7 298.4C1637.9 301.2 1641.1 304.0 1644.2 306.8C1647.3 309.7 1650.4 312.6 1653.5 315.5C1656.5 318.5 1659.6 321.5 1662.6 324.5C1665.6 327.6 1668.5 330.7 1671.4 333.8C1674.4 337.0 1677.2 340.2 1680.1 343.4C1682.9 346.6 1685.7 349.9 1688.4 353.2C1691.2 356.6 1693.9 359.9 1696.6 363.4C1699.2 366.8 1701.8 370.2 1704.4 373.7C1706.9 377.3 1709.5 380.8 1711.9 384.4C1714.4 388.0 1716.8 391.6 1719.1 395.3C1721.5 399.0 1723.8 402.7 1726.0 406.5C1728.3 410.2 1730.5 414.0 1732.6 417.9C1734.7 421.7 1736.8 425.6 1738.8 429.5C1740.8 433.4 1742.8 437.4 1744.6 441.4C1746.5 445.3 1748.4 449.4 1750.1 453.4C1751.9 457.5 1753.5 461.6 1755.2 465.7C1756.8 469.8 1758.3 473.9 1759.8 478.1C1761.3 482.3 1762.7 486.5 1764.0 490.7C1765.4 495.0 1766.7 499.2 1767.9 503.5C1769.0 507.8 1770.2 512.1 1771.2 516.4C1772.3 520.7 1773.2 525.1 1774.1 529.4C1775.0 533.8 1775.8 538.2 1776.6 542.5C1777.3 546.9 1778.0 551.3 1778.6 555.8C1779.2 560.2 1779.7 564.6 1780.1 569.0C1780.5 573.5 1780.9 577.9 1781.2 582.4C1781.4 586.8 1781.6 591.3 1781.7 595.7C1781.9 600.2 1781.9 604.7 1781.9 609.1C1781.8 613.6 1781.7 618.0 1781.5 622.5C1781.3 626.9 1781.0 631.4 1780.6 635.8C1780.3 640.3 1779.8 644.7 1779.3 649.1C1778.8 653.6 1778.2 658.0 1777.5 662.4C1776.9 666.8 1776.1 671.2 1775.3 675.5C1774.5 679.9 1773.6 684.3 1772.6 688.6C1771.6 692.9 1770.6 697.2 1769.5 701.5C1768.3 705.8 1767.1 710.1 1765.9 714.3C1764.6 718.6 1763.3 722.8 1761.9 727.0C1760.5 731.2 1759.0 735.4 1757.4 739.5C1755.9 743.6 1754.3 747.7 1752.6 751.8C1750.9 755.9 1749.2 759.9 1747.4 764.0C1745.6 768.0 1743.7 771.9 1741.8 775.9C1739.9 779.8 1737.9 783.7 1735.8 787.6C1733.8 791.5 1731.7 795.3 1729.5 799.1C1727.3 802.9 1725.1 806.6 1722.8 810.4C1720.6 814.1 1718.2 817.7 1715.9 821.4C1713.5 825.0 1711.1 828.6 1708.6 832.1C1706.1 835.7 1703.6 839.2 1701.0 842.7C1698.4 846.1 1695.8 849.5 1693.1 852.9C1690.4 856.3 1687.7 859.6 1685.0 862.9C1682.2 866.2 1679.4 869.4 1676.6 872.6C1673.7 875.8 1670.9 878.9 1668.0 882.0C1665.0 885.1 1662.1 888.2 1659.1 891.2C1656.1 894.2 1653.1 897.2 1650.0 900.1C1647.0 903.0 1643.9 905.8 1640.8 908.7C1637.6 911.5 1634.5 914.2 1631.3 917.0C1628.1 919.7 1624.9 922.4 1621.7 925.0C1618.4 927.6 1615.2 930.2 1611.9 932.7C1608.6 935.3 1605.3 937.8 1601.9 940.2C1598.6 942.6 1595.2 945.0 1591.9 947.4C1588.5 949.7 1585.1 952.0 1581.6 954.3C1578.2 956.5 1574.8 958.7 1571.3 960.9C1567.8 963.1 1564.4 965.2 1560.9 967.2C1557.4 969.3 1553.8 971.3 1550.3 973.3C1546.8 975.3 1543.2 977.2 1539.7 979.1C1536.1 981.0 1532.5 982.8 1528.9 984.6C1525.4 986.4 1521.8 988.2 1518.1 989.9C1514.5 991.6 1510.9 993.2 1507.3 994.9C1503.6 996.5 1500.0 998.1 1496.3 999.6C1492.7 1001.1 1489.0 1002.6 1485.3 1004.1C1481.6 1005.5 1478.0 1006.9 1474.3 1008.3C1470.6 1009.7 1466.9 1011.0 1463.2 1012.3C1459.5 1013.5 1455.7 1014.8 1452.0 1016.0C1448.3 1017.2 1444.6 1018.3 1440.8 1019.5C1437.1 1020.6 1433.4 1021.6 1429.6 1022.7C1425.9 1023.7 1422.1 1024.7 1418.4 1025.7C1414.6 1026.6 1410.9 1027.6 1407.1 1028.4C1403.4 1029.3 1399.6 1030.2 1395.8 1031.0C1392.1 1031.8 1388.3 1032.5 1384.5 1033.3C1380.7 1034.0 1377.0 1034.7 1373.2 1035.3C1369.4 1036.0 1365.6 1036.6 1361.9 1037.2C1358.1 1037.8 1354.3 1038.3 1350.5 1038.8C1346.7 1039.3 1342.9 1039.8 1339.1 1040.2C1335.4 1040.6 1331.6 1041.0 1327.8 1041.4C1324.0 1041.8 1320.2 1042.1 1316.4 1042.4C1312.6 1042.7 1308.8 1042.9 1305.0 1043.1C1301.2 1043.4 1297.4 1043.5 1293.6 1043.7C1289.9 1043.8 1286.1 1043.9 1282.3 1044.0C1278.5 1044.1 1274.7 1044.1 1270.9 1044.1C1267.1 1044.2 1263.3 1044.1 1259.5 1044.1C1255.7 1044.0 1251.9 1043.9 1248.1 1043.8C1244.3 1043.6 1240.5 1043.5 1236.7 1043.3C1232.9 1043.1 1229.1 1042.8 1225.3 1042.6C1221.5 1042.3 1217.7 1042.0 1213.9 1041.7C1210.1 1041.3 1206.3 1040.9 1202.5 1040.5C1198.8 1040.1 1195.0 1039.7 1191.2 1039.2C1187.4 1038.7 1183.6 1038.2 1179.8 1037.6C1176.0 1037.1 1172.2 1036.5 1168.4 1035.9C1164.6 1035.2 1160.8 1034.6 1157.1 1033.9C1153.3 1033.2 1149.5 1032.4 1145.7 1031.7C1141.9 1030.9 1138.1 1030.1 1134.4 1029.3C1130.6 1028.4 1126.8 1027.5 1123.0 1026.6C1119.3 1025.7 1115.5 1024.7 1111.7 1023.7C1108.0 1022.7 1104.2 1021.7 1100.4 1020.6C1096.7 1019.5 1092.9 1018.4 1089.2 1017.3C1085.4 1016.1 1081.7 1014.9 1077.9 1013.7C1074.2 1012.4 1070.4 1011.2 1066.7 1009.8C1063.0 1008.5 1059.2 1007.2 1055.5 1005.8C1051.8 1004.4 1048.1 1002.9 1044.4 1001.4C1040.7 1000.0 1037.0 998.4 1033.3 996.9C1029.6 995.3 1025.9 993.7 1022.2 992.0C1018.6 990.3 1014.9 988.6 1011.2 986.9C1007.6 985.1 1003.9 983.4 1000.3 981.5C996.7 979.7 993.1 977.8 989.5 975.9C985.9 973.9 982.3 971.9 978.7 969.9C975.1 967.9 971.6 965.8 968.0 963.7C964.5 961.6 961.0 959.4 957.5 957.2C954.0 955.0 950.5 952.7 947.0 950.4C943.5 948.1 940.1 945.7 936.7 943.3C933.3 940.9 929.9 938.4 926.5 935.9C923.1 933.4 919.8 930.9 916.4 928.3C913.1 925.6 909.8 923.0 906.6 920.3C903.3 917.6 900.1 914.8 896.9 912.0C893.7 909.2 890.5 906.3 887.3 903.4C884.2 900.5 881.1 897.5 878.0 894.5C875.0 891.5 871.9 888.5 869.0 885.4C866.0 882.2 863.0 879.1 860.1 875.9C857.2 872.7 854.3 869.4 851.5 866.1C848.7 862.8 845.9 859.4 843.2 856.0C840.5 852.6 837.8 849.2 835.2 845.7C832.5 842.2 830.0 838.7 827.4 835.1C824.9 831.5 822.4 827.8 820.0 824.2C817.6 820.5 815.3 816.8 813.0 813.0C810.7 809.2 808.4 805.4 806.3 801.6C804.1 797.7 802.0 793.8 799.9 789.9C797.9 786.0 795.9 782.0 794.0 778.0C792.0 774.0 790.2 770.0 788.4 765.9C786.6 761.8 784.9 757.7 783.3 753.6C781.6 749.4 780.0 745.2 778.5 741.0C777.0 736.8 775.6 732.6 774.3 728.3C772.9 724.1 771.6 719.8 770.5 715.5C769.3 711.2 768.1 706.8 767.1 702.5C766.1 698.1 765.1 693.8 764.2 689.4C763.3 685.0 762.5 680.6 761.8 676.1C761.1 671.7 760.4 667.3 759.9 662.8C759.3 658.4 758.9 653.9 758.5 649.5C758.1 645.0 757.8 640.5 757.5 636.0C757.3 631.6 757.1 627.1 757.1 622.6C757.0 618.1 757.0 613.6 757.1 609.1Z" fill="none" stroke="#42789d" stroke-width="5.5"/>
<path d="M217.4 609.4C217.4 604.9 217.5 600.4 217.6 596.0C217.7 591.5 217.9 587.0 218.2 582.6C218.5 578.1 218.9 573.7 219.3 569.3C219.8 564.8 220.3 560.4 220.9 556.0C221.5 551.5 222.2 547.1 222.9 542.7C223.7 538.4 224.5 534.0 225.4 529.6C226.3 525.3 227.3 520.9 228.4 516.6C229.4 512.3 230.6 508.0 231.8 503.7C233.0 499.4 234.3 495.2 235.6 490.9C237.0 486.7 238.4 482.5 239.9 478.3C241.4 474.2 242.9 470.0 244.6 465.9C246.2 461.8 247.9 457.7 249.7 453.6C251.4 449.6 253.2 445.6 255.1 441.6C257.0 437.6 259.0 433.7 261.0 429.7C263.0 425.8 265.1 422.0 267.2 418.1C269.4 414.3 271.6 410.5 273.8 406.7C276.1 403.0 278.4 399.3 280.7 395.6C283.1 391.9 285.5 388.3 288.0 384.7C290.4 381.1 292.9 377.5 295.5 374.0C298.1 370.5 300.7 367.1 303.3 363.7C306.0 360.2 308.7 356.9 311.5 353.5C314.2 350.2 317.0 346.9 319.8 343.7C322.7 340.5 325.6 337.3 328.5 334.1C331.4 331.0 334.3 327.9 337.3 324.9C340.3 321.8 343.4 318.8 346.4 315.9C349.5 312.9 352.6 310.0 355.7 307.1C358.8 304.3 362.0 301.5 365.2 298.7C368.4 295.9 371.6 293.2 374.9 290.6C378.1 287.9 381.4 285.3 384.7 282.7C388.0 280.1 391.3 277.6 394.7 275.1C398.1 272.7 401.4 270.2 404.8 267.9C408.2 265.5 411.7 263.1 415.1 260.9C418.6 258.6 422.0 256.3 425.5 254.1C429.0 252.0 432.5 249.8 436.1 247.7C439.6 245.6 443.1 243.6 446.7 241.6C450.3 239.6 453.8 237.6 457.4 235.7C461.0 233.8 464.6 231.9 468.2 230.1C471.9 228.3 475.5 226.5 479.2 224.8C482.8 223.0 486.5 221.3 490.1 219.7C493.8 218.1 497.5 216.5 501.2 214.9C504.9 213.4 508.6 211.9 512.3 210.4C516.0 208.9 519.7 207.5 523.5 206.1C527.2 204.8 530.9 203.4 534.7 202.1C538.4 200.9 542.2 199.6 546.0 198.4C549.7 197.2 553.5 196.0 557.3 194.9C561.0 193.8 564.8 192.7 568.6 191.7C572.4 190.7 576.2 189.7 580.0 188.7C583.8 187.8 587.6 186.9 591.4 186.0C595.2 185.1 599.0 184.3 602.8 183.5C606.6 182.7 610.4 182.0 614.2 181.3C618.0 180.6 621.8 179.9 625.7 179.3C629.5 178.7 633.3 178.1 637.1 177.5C641.0 177.0 644.8 176.5 648.6 176.0C652.4 175.6 656.3 175.1 660.1 174.7C663.9 174.4 667.7 174.0 671.6 173.7C675.4 173.4 679.2 173.1 683.0 172.9C686.9 172.6 690.7 172.5 694.5 172.3C698.3 172.1 702.2 172.0 706.0 171.9C709.8 171.9 713.6 171.8 717.5 171.8C721.3 171.8 725.1 171.8 728.9 171.9C732.7 172.0 736.6 172.1 740.4 172.2C744.2 172.4 748.0 172.6 751.8 172.8C755.6 173.0 759.4 173.2 763.2 173.5C767.0 173.8 770.8 174.2 774.6 174.5C778.4 174.9 782.2 175.3 786.0 175.7C789.8 176.2 793.6 176.7 797.4 177.2C801.2 177.7 804.9 178.2 808.7 178.8C812.5 179.4 816.3 180.0 820.0 180.7C823.8 181.4 827.6 182.1 831.3 182.8C835.1 183.5 838.8 184.3 842.6 185.1C846.3 185.9 850.1 186.8 853.8 187.6C857.6 188.5 861.3 189.4 865.0 190.4C868.8 191.4 872.5 192.3 876.2 193.4C879.9 194.4 883.7 195.5 887.4 196.6C891.1 197.7 894.8 198.8 898.5 200.0C902.2 201.2 905.9 202.4 909.5 203.7C913.2 204.9 916.9 206.2 920.6 207.6C924.2 208.9 927.9 210.3 931.5 211.7C935.2 213.1 938.8 214.6 942.5 216.0C946.1 217.5 949.7 219.1 953.3 220.6C957.0 222.2 960.6 223.8 964.2 225.5C967.8 227.1 971.3 228.8 974.9 230.5C978.5 232.3 982.1 234.0 985.6 235.9C989.2 237.7 992.7 239.5 996.2 241.4C999.8 243.3 1003.3 245.3 1006.8 247.2C1010.3 249.2 1013.8 251.2 1017.2 253.3C1020.7 255.4 1024.2 257.5 1027.6 259.6C1031.1 261.8 1034.5 264.0 1037.9 266.2C1041.3 268.5 1044.7 270.7 1048.1 273.1C1051.4 275.4 1054.8 277.8 1058.1 280.2C1061.4 282.6 1064.7 285.1 1068.0 287.6C1071.3 290.1 1074.6 292.6 1077.8 295.2C1081.1 297.8 1084.3 300.4 1087.5 303.1C1090.7 305.8 1093.8 308.5 1097.0 311.3C1100.1 314.1 1103.2 316.9 1106.3 319.8C1109.4 322.7 1112.4 325.6 1115.4 328.5C1118.5 331.5 1121.4 334.5 1124.4 337.6C1127.4 340.6 1130.3 343.7 1133.1 346.9C1136.0 350.0 1138.9 353.2 1141.7 356.4C1144.5 359.7 1147.2 362.9 1150.0 366.3C1152.7 369.6 1155.4 373.0 1158.0 376.4C1160.7 379.8 1163.3 383.3 1165.8 386.8C1168.3 390.3 1170.8 393.8 1173.3 397.4C1175.7 401.0 1178.2 404.6 1180.5 408.3C1182.8 412.0 1185.1 415.7 1187.4 419.5C1189.6 423.2 1191.8 427.0 1194.0 430.9C1196.1 434.7 1198.2 438.6 1200.2 442.5C1202.2 446.4 1204.1 450.4 1206.0 454.3C1207.9 458.3 1209.7 462.4 1211.5 466.4C1213.3 470.5 1215.0 474.6 1216.6 478.7C1218.2 482.8 1219.8 487.0 1221.3 491.2C1222.8 495.3 1224.2 499.6 1225.6 503.8C1226.9 508.0 1228.2 512.3 1229.4 516.6C1230.6 520.9 1231.7 525.2 1232.8 529.6C1233.8 533.9 1234.8 538.3 1235.7 542.6C1236.6 547.0 1237.5 551.4 1238.2 555.8C1239.0 560.2 1239.6 564.7 1240.2 569.1C1240.8 573.6 1241.3 578.0 1241.7 582.5C1242.2 586.9 1242.5 591.4 1242.8 595.9C1243.0 600.4 1243.2 604.9 1243.3 609.4C1243.4 613.8 1243.4 618.3 1243.4 622.8C1243.3 627.3 1243.1 631.8 1242.9 636.3C1242.7 640.8 1242.4 645.3 1242.0 649.7C1241.6 654.2 1241.1 658.7 1240.5 663.1C1240.0 667.6 1239.3 672.0 1238.6 676.5C1237.9 680.9 1237.1 685.3 1236.2 689.7C1235.3 694.1 1234.3 698.5 1233.3 702.8C1232.3 707.2 1231.1 711.5 1229.9 715.9C1228.7 720.2 1227.5 724.5 1226.1 728.7C1224.8 733.0 1223.3 737.2 1221.8 741.4C1220.3 745.6 1218.8 749.8 1217.1 754.0C1215.5 758.1 1213.8 762.2 1212.0 766.3C1210.2 770.4 1208.3 774.4 1206.4 778.4C1204.5 782.5 1202.5 786.4 1200.4 790.4C1198.4 794.3 1196.3 798.2 1194.1 802.0C1191.9 805.9 1189.7 809.7 1187.4 813.5C1185.1 817.2 1182.7 821.0 1180.3 824.6C1177.9 828.3 1175.4 832.0 1172.9 835.6C1170.3 839.2 1167.7 842.7 1165.1 846.2C1162.5 849.7 1159.8 853.2 1157.1 856.6C1154.3 860.0 1151.6 863.3 1148.7 866.6C1145.9 869.9 1143.0 873.2 1140.1 876.4C1137.2 879.6 1134.3 882.8 1131.3 885.9C1128.3 889.0 1125.3 892.1 1122.2 895.1C1119.1 898.1 1116.0 901.1 1112.9 904.0C1109.7 906.9 1106.5 909.7 1103.3 912.6C1100.1 915.4 1096.9 918.1 1093.6 920.8C1090.3 923.6 1087.0 926.2 1083.7 928.8C1080.4 931.4 1077.0 934.0 1073.7 936.5C1070.3 939.0 1066.9 941.5 1063.4 943.9C1060.0 946.3 1056.6 948.7 1053.1 951.0C1049.6 953.3 1046.1 955.5 1042.6 957.8C1039.1 960.0 1035.6 962.1 1032.0 964.3C1028.5 966.4 1024.9 968.5 1021.3 970.5C1017.8 972.5 1014.2 974.5 1010.6 976.4C1007.0 978.3 1003.3 980.2 999.7 982.1C996.1 983.9 992.4 985.7 988.8 987.4C985.1 989.2 981.4 990.9 977.8 992.5C974.1 994.2 970.4 995.8 966.7 997.4C963.0 998.9 959.3 1000.5 955.6 1001.9C951.9 1003.4 948.1 1004.9 944.4 1006.3C940.7 1007.7 937.0 1009.0 933.2 1010.3C929.5 1011.6 925.7 1012.9 922.0 1014.2C918.2 1015.4 914.5 1016.6 910.7 1017.7C907.0 1018.9 903.2 1020.0 899.4 1021.1C895.7 1022.1 891.9 1023.2 888.1 1024.2C884.4 1025.2 880.6 1026.1 876.8 1027.0C873.0 1027.9 869.3 1028.8 865.5 1029.7C861.7 1030.5 857.9 1031.3 854.1 1032.1C850.3 1032.9 846.6 1033.6 842.8 1034.3C839.0 1035.0 835.2 1035.6 831.4 1036.3C827.6 1036.9 823.8 1037.5 820.0 1038.0C816.2 1038.6 812.4 1039.1 808.6 1039.6C804.9 1040.0 801.1 1040.5 797.3 1040.9C793.5 1041.3 789.7 1041.7 785.9 1042.0C782.1 1042.4 778.3 1042.7 774.5 1042.9C770.7 1043.2 766.9 1043.4 763.1 1043.6C759.3 1043.8 755.5 1044.0 751.7 1044.1C747.9 1044.3 744.1 1044.4 740.3 1044.4C736.5 1044.5 732.7 1044.5 728.9 1044.5C725.1 1044.5 721.3 1044.5 717.5 1044.4C713.7 1044.3 709.9 1044.2 706.1 1044.1C702.3 1043.9 698.5 1043.7 694.7 1043.5C691.0 1043.3 687.2 1043.0 683.4 1042.8C679.6 1042.5 675.8 1042.2 672.0 1041.8C668.2 1041.4 664.4 1041.0 660.6 1040.6C656.8 1040.2 653.0 1039.7 649.2 1039.2C645.5 1038.7 641.7 1038.2 637.9 1037.6C634.1 1037.0 630.3 1036.4 626.5 1035.8C622.8 1035.1 619.0 1034.5 615.2 1033.7C611.4 1033.0 607.7 1032.3 603.9 1031.5C600.1 1030.7 596.3 1029.8 592.6 1028.9C588.8 1028.1 585.1 1027.2 581.3 1026.2C577.5 1025.3 573.8 1024.3 570.0 1023.2C566.3 1022.2 562.6 1021.1 558.8 1020.0C555.1 1018.9 551.3 1017.8 547.6 1016.6C543.9 1015.4 540.2 1014.1 536.5 1012.9C532.7 1011.6 529.0 1010.3 525.3 1008.9C521.6 1007.6 517.9 1006.2 514.2 1004.7C510.6 1003.3 506.9 1001.8 503.2 1000.3C499.6 998.7 495.9 997.2 492.3 995.6C488.6 993.9 485.0 992.3 481.3 990.6C477.7 988.9 474.1 987.1 470.5 985.3C466.9 983.6 463.3 981.7 459.7 979.8C456.2 978.0 452.6 976.0 449.1 974.1C445.5 972.1 442.0 970.1 438.5 968.0C435.0 965.9 431.5 963.8 428.0 961.7C424.5 959.5 421.1 957.3 417.6 955.1C414.2 952.8 410.8 950.5 407.4 948.2C404.0 945.8 400.6 943.4 397.3 941.0C393.9 938.6 390.6 936.1 387.3 933.5C384.0 931.0 380.7 928.4 377.5 925.8C374.2 923.2 371.0 920.5 367.8 917.8C364.6 915.0 361.5 912.3 358.3 909.4C355.2 906.6 352.1 903.8 349.0 900.8C346.0 897.9 343.0 895.0 340.0 892.0C337.0 888.9 334.0 885.9 331.1 882.8C328.2 879.7 325.3 876.5 322.4 873.3C319.6 870.1 316.8 866.9 314.0 863.6C311.3 860.3 308.5 857.0 305.9 853.6C303.2 850.2 300.6 846.8 298.0 843.3C295.4 839.9 292.9 836.4 290.4 832.8C287.9 829.3 285.5 825.7 283.1 822.0C280.7 818.4 278.4 814.7 276.1 811.0C273.8 807.3 271.6 803.5 269.4 799.7C267.3 795.9 265.2 792.0 263.1 788.2C261.1 784.3 259.1 780.4 257.2 776.4C255.2 772.5 253.4 768.5 251.6 764.5C249.8 760.4 248.0 756.4 246.4 752.3C244.7 748.2 243.1 744.1 241.5 740.0C240.0 735.8 238.5 731.6 237.1 727.4C235.7 723.2 234.4 719.0 233.1 714.7C231.9 710.5 230.7 706.2 229.6 701.9C228.5 697.6 227.4 693.3 226.5 688.9C225.5 684.6 224.6 680.2 223.8 675.9C223.0 671.5 222.3 667.1 221.6 662.7C220.9 658.3 220.4 653.9 219.9 649.4C219.4 645.0 218.9 640.6 218.6 636.1C218.2 631.7 218.0 627.2 217.8 622.7C217.6 618.3 217.5 613.8 217.4 609.4Z" fill="none" stroke="#42789d" stroke-width="5.5"/>
</g></g>
<text transform="translate(233.00 117.20) scale(0.9741 1)" style="font-size:60.02px;fill:#182d3c;stroke:#fefefd;stroke-width:1.0px">Visualizing the Search for Truth: Absolute vs. Relative Truth</text>
<text transform="translate(438.70 313.15) scale(0.9494 1)" style="font-size:46.93px;font-weight:bold;fill:#121416;stroke:#121416;stroke-width:1.5px">ABSOLUTE TRUTH</text>
<text transform="translate(481.90 354.30) scale(1.0240 1)" style="font-size:31.15px;fill:#121416;stroke:#121416;stroke-width:0.8px">Objective, Universal,</text>
<text transform="translate(531.15 390.50) scale(0.9478 1)" style="font-size:33.14px;fill:#121416;stroke:#121416;stroke-width:0.8px">Eternally True</text>
<text transform="translate(366.26 464.70) scale(1.0208 1)" style="font-size:36.41px;fill:#121416;stroke:#121416;stroke-width:0.8px">2 + 2 = 4 (Mathematics)</text>
<text transform="translate(377.59 548.30) scale(0.8791 1)" style="font-size:37.97px;fill:#121416;stroke:#121416;stroke-width:0.8px">LAWS OF PHYSICS</text>
<text transform="translate(354.31 590.10) scale(0.9852 1)" style="font-size:36.55px;fill:#121416;stroke:#121416;stroke-width:0.8px">(e.g., Gravity 9.8m/s²)</text>
<text transform="translate(324.35 673.10) scale(0.8976 1)" style="font-size:37.97px;fill:#121416;stroke:#121416;stroke-width:0.8px">LOGICAL TAUTOLOGIES</text>
<text transform="translate(347.81 758.60) scale(0.8839 1)" style="font-size:38.40px;fill:#121416;stroke:#121416;stroke-width:0.8px">OBJECTIVE MORALITY</text>
<text transform="translate(360.89 845.10) scale(0.9066 1)" style="font-size:38.40px;fill:#121416;stroke:#121416;stroke-width:0.8px">FUNDAMENTAL REALITY</text>
<text transform="translate(476.55 930.20) scale(0.8807 1)" style="font-size:38.54px;fill:#121416;stroke:#121416;stroke-width:0.8px">PI (π) IS CONSTANT</text>
<text transform="translate(905.21 362.15) scale(0.8761 1)" style="font-size:38.83px;fill:#f3f7f9;stroke:#f3f7f9;stroke-width:0.7px">OBJECTIVE</text>
<text transform="translate(928.52 403.65) scale(0.8814 1)" style="font-size:38.83px;fill:#f3f7f9;stroke:#f3f7f9;stroke-width:0.7px">REALITY</text>
<text transform="translate(875.53 437.15) scale(1.0625 1)" style="font-size:24.89px;fill:#f3f7f9;stroke:#f3f7f9;stroke-width:0.7px">Fundamental truth as</text>
<text transform="translate(842.75 466.55) scale(1.0615 1)" style="font-size:24.85px;fill:#f3f7f9;stroke:#f3f7f9;stroke-width:0.7px">perceived and experienced</text>
<text transform="translate(832.50 536.45) scale(0.9117 1)" style="font-size:34.99px;fill:#f3f7f9;stroke:#f3f7f9;stroke-width:0.7px">HUMAN EXPERIENCE</text>
<text transform="translate(834.04 608.85) scale(0.9031 1)" style="font-size:36.55px;fill:#f3f7f9;stroke:#f3f7f9;stroke-width:0.7px">RATIONAL ANALYSIS</text>
<text transform="translate(860.88 679.85) scale(0.9016 1)" style="font-size:35.70px;fill:#f3f7f9;stroke:#f3f7f9;stroke-width:0.7px">REASON &amp; LOGIC</text>
<text transform="translate(793.67 751.45) scale(0.8980 1)" style="font-size:36.12px;fill:#f3f7f9;stroke:#f3f7f9;stroke-width:0.7px">EMPIRICAL OBSERVATION</text>
<text transform="translate(933.61 823.35) scale(0.9143 1)" style="font-size:34.56px;fill:#f3f7f9;stroke:#f3f7f9;stroke-width:0.7px">SHARED</text>
<text transform="translate(856.94 862.25) scale(0.9283 1)" style="font-size:35.41px;fill:#f3f7f9;stroke:#f3f7f9;stroke-width:0.7px">UNDERSTANDING</text>
<text transform="translate(1176.59 312.75) scale(0.9786 1)" style="font-size:45.80px;font-weight:bold;fill:#121416;stroke:#121416;stroke-width:1.5px">RELATIVE TRUTH</text>
<text transform="translate(1233.62 355.50) scale(1.0287 1)" style="font-size:30.44px;fill:#121416;stroke:#121416;stroke-width:0.8px">Subjective, Personal,</text>
<text transform="translate(1226.87 391.20) scale(1.0767 1)" style="font-size:30.29px;fill:#121416;stroke:#121416;stroke-width:0.8px">Culturally Dependent</text>
<text transform="translate(1381.76 483.20) scale(0.9228 1)" style="font-size:37.83px;fill:#121416;stroke:#121416;stroke-width:0.8px">OPINIONS</text>
<text transform="translate(1317.43 571.60) scale(0.8614 1)" style="font-size:38.26px;fill:#121416;stroke:#121416;stroke-width:0.8px">PERSONAL BELIEFS</text>
<text transform="translate(1327.21 660.20) scale(0.8975 1)" style="font-size:37.83px;fill:#121416;stroke:#121416;stroke-width:0.8px">CULTURAL VALUES</text>
<text transform="translate(1305.70 749.30) scale(0.8906 1)" style="font-size:38.97px;fill:#121416;stroke:#121416;stroke-width:0.8px">MORAL RELATIVISM</text>
<text transform="translate(1232.57 837.90) scale(0.8878 1)" style="font-size:38.12px;fill:#121416;stroke:#121416;stroke-width:0.8px">INDIVIDUAL PERSPECTIVE</text>
<text transform="translate(1238.99 928.40) scale(0.9807 1)" style="font-size:39.40px;fill:#121416;stroke:#121416;stroke-width:0.8px">“It is hot outside”</text>
<text transform="translate(1642.27 1067.30) scale(1.0541 1)" style="font-size:34.54px;fill:#24333d;stroke:#fefefd;stroke-width:0.6px">oursearchfortruth.org</text>
</svg>
</body></html>
